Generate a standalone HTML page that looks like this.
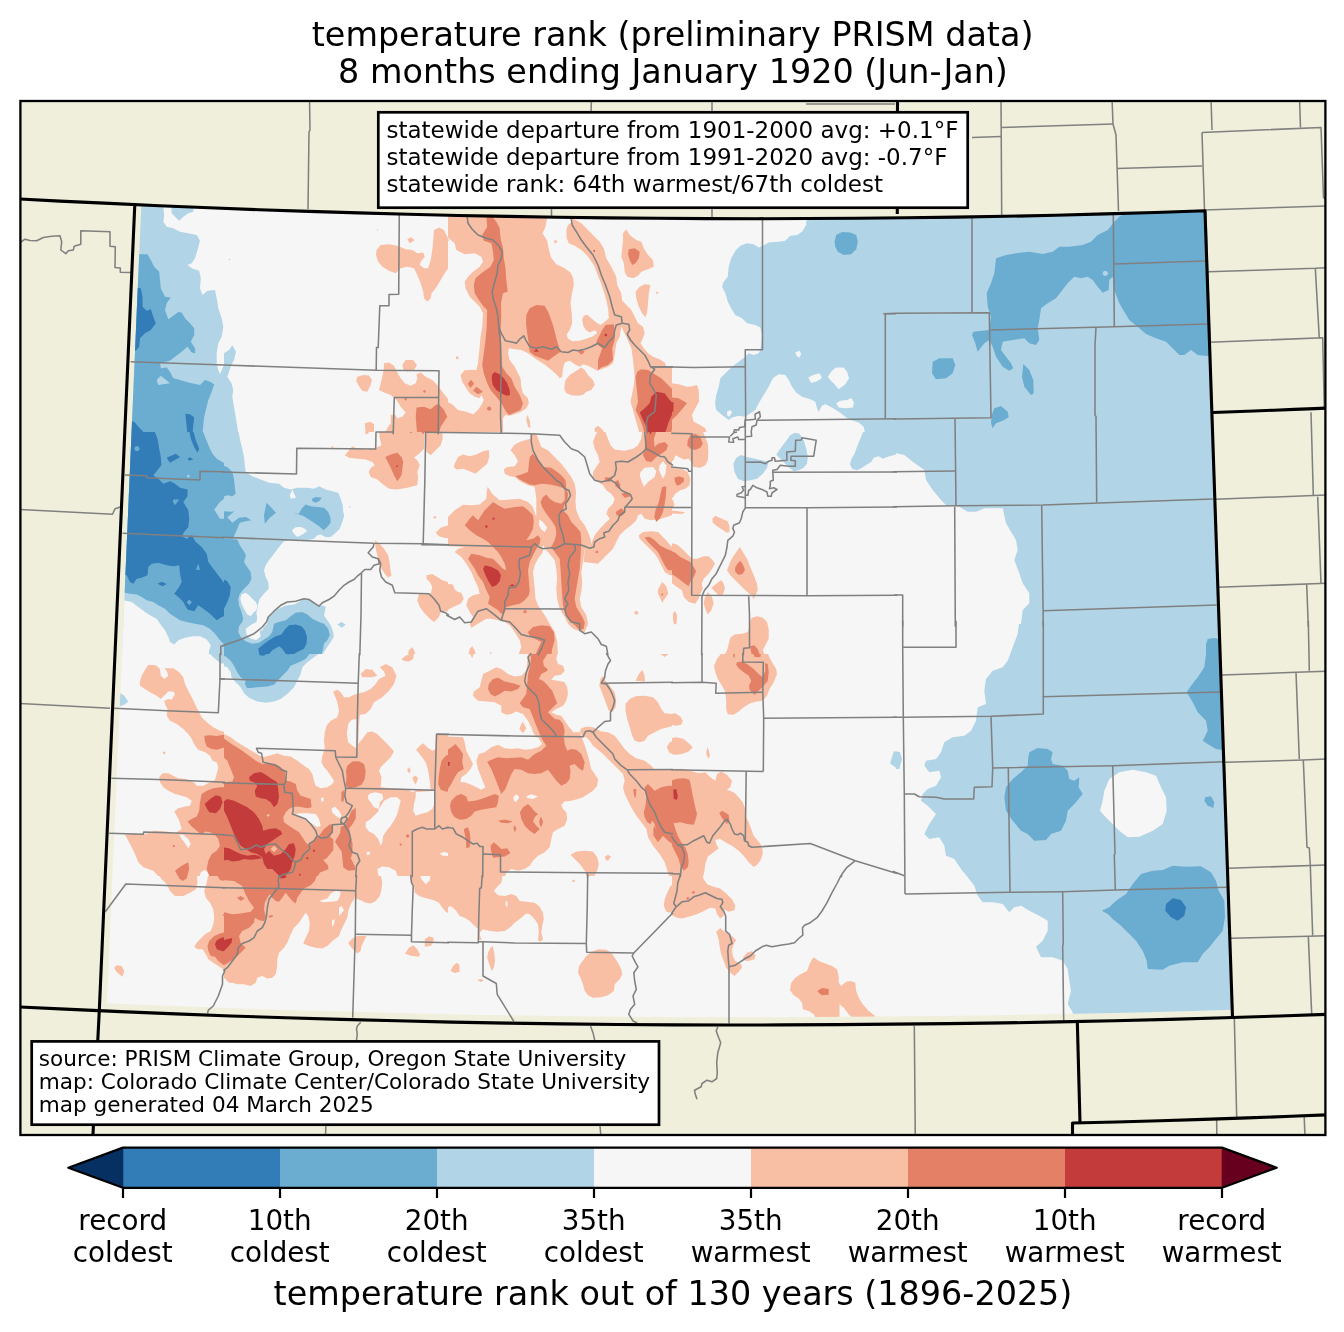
<!DOCTYPE html>
<html lang="en"><head><meta charset="utf-8"><title>temperature rank (preliminary PRISM data)</title>
<style>
html,body{margin:0;padding:0;background:#fff}
svg{display:block}
text{font-family:"DejaVu Sans","Liberation Sans",sans-serif;fill:#000}
.t{font-size:33.4px;text-anchor:middle}
.k{font-size:27.78px;text-anchor:middle}
.a{font-size:23px}
.s{font-size:21.59px}
.c{fill:none;stroke:#808080;stroke-width:1.55;stroke-linejoin:round}
.st{fill:none;stroke:#000;stroke-width:3.1;stroke-linejoin:round}
</style></head>
<body>
<svg width="1344" height="1332" viewBox="0 0 1344 1332">
<rect width="1344" height="1332" fill="#fff"/>
<defs><clipPath id="ax"><rect x="20.5" y="101" width="1305" height="1034"/></clipPath>
<clipPath id="co"><path d="M141.3,205.5L185.7,207.3L230.1,209.1L274.5,210.7L318.8,212.3L363.2,213.6L407.6,214.8L452,215.9L496.4,216.7L540.8,217.5L585.1,218.1L629.5,218.6L673.9,219L718.3,219.1L762.7,219.2L807,219L851.4,218.8L895.8,218.4L940.2,217.8L984.6,217.2L1029,216.3L1073.4,215.3L1117.7,214.1L1162.1,212.8L1206.5,211.3L1232.5,1009.8L1185.6,1011.2L1138.7,1012.4L1091.8,1013.4L1044.9,1014.3L998,1015.2L951.1,1015.8L904.2,1016.2L857.3,1016.7L810.4,1017L763.5,1017.2L716.6,1017.2L669.8,1017.1L622.9,1016.8L576,1016.2L529.1,1015.6L482.2,1014.9L435.3,1014L388.4,1012.8L341.5,1011.6L294.6,1010.3L247.7,1008.8L200.8,1007.1L153.9,1005.2L107,1003.2Z"/></clipPath>
<clipPath id="t0"><rect x="0" y="200" width="224" height="232"/></clipPath>
<clipPath id="t1"><rect x="0" y="432" width="224" height="222"/></clipPath>
<clipPath id="t2"><rect x="0" y="654" width="224" height="222"/></clipPath>
<clipPath id="t3"><rect x="0" y="876" width="224" height="222"/></clipPath>
<clipPath id="t4"><rect x="224" y="200" width="224" height="232"/></clipPath>
<clipPath id="t5"><rect x="224" y="432" width="224" height="222"/></clipPath>
<clipPath id="t6"><rect x="224" y="654" width="224" height="222"/></clipPath>
<clipPath id="t7"><rect x="224" y="876" width="224" height="222"/></clipPath>
<clipPath id="t8"><rect x="448" y="200" width="224" height="232"/></clipPath>
<clipPath id="t9"><rect x="448" y="432" width="224" height="222"/></clipPath>
<clipPath id="t10"><rect x="448" y="654" width="224" height="222"/></clipPath>
<clipPath id="t11"><rect x="448" y="876" width="224" height="222"/></clipPath>
<clipPath id="t12"><rect x="672" y="200" width="224" height="232"/></clipPath>
<clipPath id="t13"><rect x="672" y="432" width="224" height="222"/></clipPath>
<clipPath id="t14"><rect x="672" y="654" width="224" height="222"/></clipPath>
<clipPath id="t15"><rect x="672" y="876" width="224" height="222"/></clipPath>
<clipPath id="t16"><rect x="896" y="200" width="448" height="424"/></clipPath>
<clipPath id="t17"><rect x="896" y="624" width="448" height="444"/></clipPath>
</defs>
<rect x="20.5" y="101" width="1305" height="1034" fill="#efefdb"/>
<g clip-path="url(#ax)">
<path d="M141.3,205.5L185.7,207.3L230.1,209.1L274.5,210.7L318.8,212.3L363.2,213.6L407.6,214.8L452,215.9L496.4,216.7L540.8,217.5L585.1,218.1L629.5,218.6L673.9,219L718.3,219.1L762.7,219.2L807,219L851.4,218.8L895.8,218.4L940.2,217.8L984.6,217.2L1029,216.3L1073.4,215.3L1117.7,214.1L1162.1,212.8L1206.5,211.3L1232.5,1009.8L1185.6,1011.2L1138.7,1012.4L1091.8,1013.4L1044.9,1014.3L998,1015.2L951.1,1015.8L904.2,1016.2L857.3,1016.7L810.4,1017L763.5,1017.2L716.6,1017.2L669.8,1017.1L622.9,1016.8L576,1016.2L529.1,1015.6L482.2,1014.9L435.3,1014L388.4,1012.8L341.5,1011.6L294.6,1010.3L247.7,1008.8L200.8,1007.1L153.9,1005.2L107,1003.2Z" fill="#f7f6f6"/>
<g clip-path="url(#co)">
<g clip-path="url(#t0)">
<path d="M130,200L162.5,200L164.2,215L163.3,221.7L166.7,226.7L173.3,228.3L180,231.7L188.3,233.3L196.7,235L200,240.8L197.5,250L195,258.3L191.7,263.3L187.5,265L191.7,268.3L199.2,270.8L200.8,278.3L200,288.3L202.5,295L207.5,290.8L215,290L216.7,298.3L218.3,308.3L221.7,318.3L223.3,326.7L221.7,336.7L218.3,343.3L216.7,353.3L216.7,363.3L218.3,370L220,374.2L222.5,368.3L226.7,360L226.7,434.2L130,434.2Z" fill="#b1d5e7"/>
<path d="M170.8,200L171.7,213.3L175,216.7L179.2,220.8L183.3,216.7L188.3,213.3L193.3,211.7L194.2,200Z" fill="#b1d5e7"/>
<path d="M130,255L140,254.2L147.5,254.2L150.8,260L154.2,266.7L159.2,271.7L160,280L160.8,288.3L165,296.7L170.8,297.5L166.7,303.3L165,310L168.3,319.2L173.3,315.8L178.3,312L181.7,312.5L185,318.3L190,323.3L194.2,328.3L194.2,335L190.8,341.7L195,348.3L195.3,353.3L191.7,352.5L187.5,346.7L181.7,351.7L175,356.7L170,360.8L160,363.3L160.8,368.3L166.7,367.5L170,371.7L173.3,378.3L180,380L188.3,382.5L200,385L205,380L210,381.7L214.2,384.2L211.7,391.7L208.3,400L206.7,406.7L204.2,416.7L203.3,425L202.5,434.2L130,434.2Z" fill="#6bacd1"/>
<path d="M160.8,375.8L170,383.3L158.3,385L156.7,380Z" fill="#b1d5e7"/>
<path d="M130,287.5L140.8,288.3L142.5,296.7L142.5,306.7L146.7,310.8L150.8,309.2L153.3,316.7L155.8,323.3L150.8,330L145,333.3L140,338.3L139.2,346.7L135.8,350.8L130,350.8Z" fill="#327cb7"/>
<path d="M185.3,413.7L190,414.2L194.2,417.5L193.3,425L192.5,434.2L187.5,434.2L186.3,423.3Z" fill="#327cb7"/>
<path d="M130,420L135,422.5L138.3,426.7L141.7,430L145,434.2L130,434.2Z" fill="#327cb7"/>
</g>
<g clip-path="url(#t1)">
<path d="M116.7,430.3L226.7,430.3L226.7,656.2L116.7,656.2Z" fill="#b1d5e7"/>
<path d="M116.7,599.5L123.3,600.3L131.7,602L138.3,607L145,612L150,615.3L156.7,618.7L160,623.7L165,630.3L168.3,637L170,642L174.2,644.5L178.3,640.3L185,637.8L193.3,636.2L200,636.2L206.7,639.5L210.8,645.3L209.2,650.3L208.3,656.2L116.7,656.2Z" fill="#f7f6f6"/>
<path d="M116.7,430.3L202.5,430.3L205.8,438.7L209.2,447L212.5,453.7L216.7,458.7L226.7,464.5L226.7,647L220,640.3L215,633.7L210,628.7L203.3,625.3L195,623.7L186.7,622L180,620.3L175,617L170,613.7L165,608.7L158.3,605.3L153.3,602L146.7,600.3L141.7,597L136.7,594.5L130,593.7L116.7,591.2Z" fill="#6bacd1"/>
<path d="M214.2,509.5L220,502L225,497.8L225,518.7L220,518.7Z" fill="#b1d5e7"/>
<path d="M189.7,476.2L189.3,477.1L188.3,477.5L187.4,477.1L187,476.2L187.4,475.2L188.3,474.8L189.3,475.2Z" fill="#b1d5e7"/>
<path d="M154.2,430.3L157.5,438.7L159.2,448.7L160.8,457L161.3,465.3L156.7,471.2L153.3,475.3L158.3,478.7L163.3,483.7L170,481.2L175,483.7L180,487.8L187.5,489.5L187.5,496.2L183.3,502L188.3,510.3L189.2,518.7L188.3,527L184.2,532L181.7,536.2L186.7,538.7L191.7,535.3L195.8,542L201.7,547L206.7,553.7L208.3,562L213.3,568.7L218.3,575.3L223.3,582L226.7,585.3L226.7,615.3L221.7,617L216.7,620.3L210,613.7L203.3,608.7L198.3,605.3L194.2,611.2L187.5,609.5L183.3,602L178.3,597L174.2,593.7L179.2,587L181.7,582L180,573.7L179.2,565.3L173.3,566.2L166.7,565.3L158.3,562.8L151.7,563.7L148.3,567L147.5,575.3L141.7,577.8L136.7,578.7L133.3,583.7L130,582L126.7,575.3L116.7,575.3L116.7,430.3Z" fill="#327cb7"/>
<path d="M139.7,448.7L138.9,450.6L137,451.3L135.1,450.6L134.3,448.7L135.1,446.8L137,446L138.9,446.8Z" fill="#6bacd1"/>
<path d="M173.3,499.5L179.2,499.5L175,505.3L173,502Z" fill="#6bacd1"/>
<path d="M198.3,563.7L200,570L195.8,569.5Z" fill="#6bacd1"/>
<path d="M189.2,599.5L192,602.3L189.2,605.3L186.7,602.3Z" fill="#6bacd1"/>
<path d="M166.7,457.8L175.8,453.7L180,457L170,462.8Z" fill="#327cb7"/>
<path d="M187.5,458.7L190,457.3L193.3,459.5L189.2,460.7Z" fill="#327cb7"/>
<path d="M189.2,430.3L193.3,430.3L195.8,440.3L199.2,448.7L197.5,452.8L194.2,447L190.8,438.7Z" fill="#327cb7"/>
<path d="M157.5,583.7L161.7,581.7L166.7,584L162.5,586.2Z" fill="#327cb7"/>
</g>
<g clip-path="url(#t2)">
<path d="M208.3,652.3L213.3,657.3L218.3,661.5L222.5,664L226.7,660.7L226.7,652.3Z" fill="#b1d5e7"/>
<path d="M116.7,690.7L124.2,695.7L128.3,701.5L124.2,704.8L116.7,707.3Z" fill="#b1d5e7"/>
<path d="M148.3,664.8L155.8,665.3L160,669L160.8,675.7L164.2,679L168.3,675.7L166.7,670.7L164.2,668.2L173.3,668.2L179.2,672.3L183.3,677.3L185,684L188.3,690.7L191.7,697.3L195,704L198.3,710.7L201.7,717.3L206.7,722.3L213.3,727.3L220,730.7L226.7,732.3L226.7,878.2L160,878.2L153.3,870.7L143.3,867.3L138.3,862.3L135,854L131.7,847.3L128.3,840.7L125,834.8L133.3,833.2L143.3,834.8L155,830.7L166.7,831.5L175,833.2L181.7,829L179.2,820.7L176.7,815.7L174.2,811.5L178.3,808.2L185,806.5L190,805.7L191.7,800.7L186.7,797.3L181.7,795.7L175,794L168.3,790.7L163.3,787.3L160,782.3L159.2,777.3L162.5,773.2L168.3,773.2L173.3,775.7L178.3,778.2L186.7,779L195,783.2L196.7,785.7L203.3,785.7L210,782.3L215,779.8L216.7,774L218.3,767.3L216.7,762.3L212.5,760.7L210,755.7L205,752.3L198.3,749.8L195,745.7L191.7,739L188.3,734L183.3,729L176.7,724L170,720.7L166.7,715.7L167.5,709L165,704L164.2,700.7L168.3,699L171.7,699.8L175,694L173.3,691.5L168.3,691.5L165,694.8L160.8,699L156.7,695.7L150,692.3L145,689L140,685.7L139.7,682.3L141.7,675.7L145,669.8Z" fill="#f8bfa4"/>
<path d="M179.2,834.8L183.3,834.8L188.3,839L190.8,844L188.3,848.2L185,843.2L181.7,839Z" fill="#f7f6f6"/>
<path d="M199.2,878.2L200.8,872.3L205,869.8L209.2,874L210,878.2Z" fill="#f7f6f6"/>
<path d="M165.5,752.8L165.1,753.8L164.2,754.2L163.2,753.8L162.8,752.8L163.2,751.9L164.2,751.5L165.1,751.9Z" fill="#f8bfa4"/>
<path d="M204.2,735.7L210,735.3L216.7,736L224,734.8L226.7,734.8L226.7,747.3L221.7,748.2L216.7,749.8L211.7,749L206.7,746.5L205,741.5Z" fill="#e48066"/>
<path d="M201.7,794L206.7,790.7L213.3,788.2L220,787.3L226.7,787.3L226.7,878.2L210,878.2L206.7,869L208.3,860.7L211.7,854L216.7,850.7L220,845.7L218.3,839L215,834.8L210,832.3L205,831.5L201.7,834.8L196.7,830.7L191.7,826.5L187.5,821.5L191.7,819L196.7,816.5L199.2,810.7L200,802.3Z" fill="#e48066"/>
<path d="M175,870.7L181.7,865.7L188.3,862.3L189.2,869L186.7,878.2L179.2,878.2Z" fill="#e48066"/>
<path d="M175,846L174.7,846.8L173.8,847.2L173,846.8L172.7,846L173,845.2L173.8,844.8L174.7,845.2Z" fill="#e48066"/>
<path d="M204.7,804L210,799L215.8,795.3L220.8,796.5L222.5,802.3L220,809L215.8,813.2L209.2,812.3L206.7,808.2Z" fill="#c43b3c"/>
</g>
<g clip-path="url(#t3)">
<path d="M158.3,874.3L161.7,879.3L166.7,884.3L170,891L175,896L183.3,896L190,892.7L195.8,889.3L197.5,882.7L196.7,874.3Z" fill="#f8bfa4"/>
<path d="M208.3,874.3L206.7,882.7L204.2,891L205.8,897.7L210,902.7L213.3,909.3L214.2,917.7L213.3,924.3L210.8,931L205,934.3L200,939.3L196.7,942.7L194.2,946.8L197.5,949.3L202.5,949.3L205.8,954.3L208.3,959.3L213.3,962.7L218.3,966L223.3,969.3L226.7,969.3L226.7,874.3Z" fill="#f8bfa4"/>
<path d="M114.2,967.7L116.7,965.2L121.7,966L124.2,971L122.5,976.8L119.2,974.3L115.8,971Z" fill="#f8bfa4"/>
<path d="M177.5,874.3L187.5,874.3L186.7,878.5L182.5,881L179.2,878.5Z" fill="#e48066"/>
<path d="M216.7,874.3L225,874.3L225,881L220,880.2Z" fill="#e48066"/>
<path d="M226.7,931.8L220,933.5L214.2,936L209.2,941L207.5,946L208.3,951L210.8,956L215,956.8L218.3,961L222.5,964.3L226.7,966.8Z" fill="#e48066"/>
<path d="M224.5,915.2L224.2,915.8L223.7,916L223.1,915.8L222.8,915.2L223.1,914.6L223.7,914.3L224.2,914.6Z" fill="#e48066"/>
<path d="M226.7,936.8L221.7,937.7L216.7,940.2L215,944.3L216.7,949.3L221.7,951L226.7,951.8Z" fill="#c43b3c"/>
</g>
<g clip-path="url(#t4)">
<path d="M219,356.7L229,350L232.3,345.3L236,351.7L234,360L230.7,366.7L227.3,376.7L231.5,383.3L233.2,390L232.3,396.7L234,406.7L235.7,416.7L237.3,426.7L238.2,434.2L219,434.2Z" fill="#b1d5e7"/>
<path d="M230.3,259.5L230.1,260.1L229.5,260.3L228.9,260.1L228.7,259.5L228.9,258.9L229.5,258.7L230.1,258.9Z" fill="#b1d5e7"/>
<path d="M376.5,250L380.7,245L389,244.2L397.3,245.8L405.7,249.2L412.3,250L417.3,253.3L423.2,252.5L424.8,256.7L420.7,261.7L419.8,265L424,268.3L428.2,268.3L430.7,260L432.3,250L433.2,240L434,230L439,227.5L444,230L447.3,236.7L450.7,243.3L450.7,265L445.7,271.7L440.7,280L435.7,288.3L431.5,293.3L430.7,298.3L427.3,301.7L424,298.3L423.2,291.7L420.7,283.3L417.3,275L414,268.3L407.3,266.7L400.7,268.3L395.7,273.3L389,270.8L382.3,266.7L378.2,261.7L376,255Z" fill="#f8bfa4"/>
<path d="M407.3,239.2L410.7,237.2L414.8,240L409.8,243.3Z" fill="#f8bfa4"/>
<path d="M378.2,230L378,230.5L377.5,230.7L377,230.5L376.8,230L377,229.5L377.5,229.3L378,229.5Z" fill="#f8bfa4"/>
<path d="M357.3,376.7L363.2,375L369,375.5L372,380L370.3,385.8L367.3,391.7L362.3,390.8L358.2,385L356.2,380.8Z" fill="#f8bfa4"/>
<path d="M402.3,365L405.7,360L413.2,360L417,365L414,370L407.3,371.3L403.2,369.2Z" fill="#f8bfa4"/>
<path d="M384,363.3L389,362.5L394,365.8L397.3,372.5L400.7,378.3L404.8,383.3L410.7,385.8L415.7,383.3L417.3,378.3L416.5,374.2L420.7,372.5L425.7,376.7L432.3,380L437.3,385L442.3,391.7L447.3,398.3L450.7,401.7L450.7,434.2L384,434.2L388.2,426.7L390.7,423.3L390.7,415L394.8,414.2L397.3,418.3L402.3,416.7L405.7,412.5L400.7,406.7L396.5,400L390.7,395L384,392.5L379,390L380.7,383.3L382.3,376.7L383.7,370Z" fill="#f8bfa4"/>
<path d="M364.8,423.3L370.7,421.7L374,424.2L374,434.2L365.7,434.2Z" fill="#f8bfa4"/>
<path d="M416.5,407.5L424,406.7L430.7,409.2L435.7,405L439,404.2L444,410L447.3,416.7L444,421.7L440.7,426.7L439,434.2L417.3,434.2L416.5,426.7L415.7,416.7Z" fill="#e48066"/>
<path d="M425.8,391.3L425.5,392.3L424.5,392.7L423.5,392.3L423.2,391.3L423.5,390.4L424.5,390L425.5,390.4Z" fill="#e48066"/>
<path d="M407,399.2L406.6,400.1L405.7,400.5L404.7,400.1L404.3,399.2L404.7,398.2L405.7,397.8L406.6,398.2Z" fill="#e48066"/>
</g>
<g clip-path="url(#t5)">
<path d="M222.3,430.3L238.2,430.3L239.8,438.7L242.3,448.7L244,457L244.8,465.3L245.7,472L252.3,476.2L260.7,479.5L269,482.8L279,483.7L284,487.8L290.7,489.5L297.3,487.8L307.3,487.8L314,488.7L319,486.2L325.7,489.5L332.3,491.2L338.2,492.8L340.7,498.7L342.7,505.3L343.2,512L344.3,515.3L342.3,522L339.8,528.7L335.7,532.8L330.7,537L325.7,537.3L320.7,534.5L317.3,535.3L314,538.7L307.3,540.3L297.3,540.3L290.7,540L284,541.2L279,547L274,553.7L269,560.3L265.7,565.3L264,570.3L265.7,577L268.2,582L268.7,588.7L264,593.7L259.8,598.7L258.2,603.7L257.3,608.7L256.5,612.8L257.3,618.7L259.8,623.7L261.5,631.2L264,627L267.3,623.7L268.2,617L272.3,613.7L277.3,609.5L282.3,607L287.3,605.3L294,604.5L299,602L304,598.7L309,599.5L314,602.8L318.2,606.2L322.3,605.3L325.7,607L324.8,612L324,615.3L327.3,620.3L330.7,625.3L333.2,632L333.7,637L330.7,642L327.3,647L324,652L322.3,656.2L222.3,656.2Z" fill="#b1d5e7"/>
<path d="M241.5,594.5L245.7,592.8L249,595.3L252.3,598.7L255.7,602L257.3,605.3L256.5,610.3L254,612L250.7,616.2L247.3,614.5L244,608.7L241.5,603.7L240.3,598.7Z" fill="#f7f6f6"/>
<path d="M245.7,628.7L251.5,624.5L256.5,622L257.3,617L256.5,612.8L259.8,615.3L264,620.3L263.2,625.3L259.8,632L260.7,636.2L256.5,640L250.7,638.7L246.5,634.5Z" fill="#f7f6f6"/>
<path d="M292.3,489.5L294,493.7L296,497.8L290.7,498.7L289.8,495.3Z" fill="#f7f6f6"/>
<path d="M292,530.3L295.7,527.3L300.7,527L304.8,528.7L307,531.2L302.3,534.5L297.3,537L294,533.7Z" fill="#f7f6f6"/>
<path d="M350.7,507L350.4,507.6L349.8,507.8L349.2,507.6L349,507L349.2,506.4L349.8,506.2L350.4,506.4Z" fill="#b1d5e7"/>
<path d="M337.3,624.5L341.5,622L345.7,624.5L342,627.8Z" fill="#b1d5e7"/>
<path d="M222.3,465.3L227.3,467L232.3,472L234,478.7L234.8,487L235.7,493.7L232.3,496.2L227.3,495.3L222.3,497Z" fill="#6bacd1"/>
<path d="M222.3,511.2L230.7,511.7L234.3,511.2L230.7,514.5L227.3,517.3L232.3,522.8L239,517.8L245.7,517L251.5,520.3L245.7,521.2L239.8,522.8L237.3,528.7L234.8,534.5L233.2,538.7L222.3,538.7Z" fill="#6bacd1"/>
<path d="M266.5,502.8L271.5,507.8L276,512.8L269.8,517.8L264.8,523.7L264,515.3Z" fill="#6bacd1"/>
<path d="M293.2,513.3L299,513.7L301.5,508.7L305.7,504.5L310.7,506.2L317.3,507L324,507.8L328.2,512L330.3,517L330.7,522.8L327.3,527L323.7,530.3L319,526.2L314,522.8L309,519.5L304,516.2L299,514.5Z" fill="#6bacd1"/>
<path d="M312,498.7L315.7,497L322,497.8L319,501.2L315.7,502.8L312.3,501.2Z" fill="#6bacd1"/>
<path d="M222.3,538.7L237.3,539.5L239.8,545.3L243.2,550.3L246,555.3L244,562L247.3,567L250.7,572L251.5,578.7L249,583.7L244,588.7L239.8,593.7L238.2,598.7L239,605.3L241.5,612L243.2,618.7L242.3,622L239,626.2L238.2,632L240.7,637L245.7,641.2L252.3,643.7L259,642.8L264,639.5L269,636.2L272.3,632L274,623.7L279,622L285.7,620.3L290.7,616.2L295.7,612.8L302.3,612L307.3,614.5L312.3,618.7L319,622L324,623.7L328.2,628.7L329.8,635.3L327.3,640.3L324,643.7L323.2,648.7L320.7,656.2L222.3,656.2Z" fill="#6bacd1"/>
<path d="M222.3,578.7L227.3,581.2L230.7,587L229.8,595.3L227.3,602L224.8,607L222.3,612Z" fill="#327cb7"/>
<path d="M258.2,648.7L262.3,645.3L269,640.3L275.7,636.2L281.5,634.5L284.8,629.5L289,625.3L295.7,624.5L301.5,626.2L304.8,630.3L307,637L306.5,643.7L304,648.7L297.3,652L290.7,656.2L287.3,656.2L282.3,648.7L279,646.2L272.3,650.3L267.3,656.2L259.8,656.2Z" fill="#327cb7"/>
<path d="M379,430.3L379.8,438.7L381.5,445.3L374,448.7L365.7,449.5L357.3,448.7L352.3,446.2L348.2,451.2L344.8,455.3L349,457.8L357.3,458.7L365.7,459.5L372.3,462L374.8,465.3L370.7,467.8L368.7,472L370.7,477L377.3,479.5L382.3,483.7L389,488.7L397.3,489.5L407.3,487.8L417.3,485.3L418.2,477L417.3,472L419.8,465.3L417.3,460.3L414,457.8L419,453.7L424,448.7L424.8,430.3Z" fill="#f8bfa4"/>
<path d="M424.8,430.3L442.3,430.3L442.7,438.7L440.7,445.3L435.7,450.3L430.7,455.3L426.5,452L425.7,442Z" fill="#f8bfa4"/>
<path d="M364.8,430.3L369,430.3L368.2,434L365.3,433.7Z" fill="#f8bfa4"/>
<path d="M333.3,447L333,447.7L332.3,448L331.6,447.7L331.3,447L331.6,446.3L332.3,446L333,446.3Z" fill="#f8bfa4"/>
<path d="M436.2,517.3L435.8,518.3L434.8,518.7L433.9,518.3L433.5,517.3L433.9,516.4L434.8,516L435.8,516.4Z" fill="#f8bfa4"/>
<path d="M435.7,532.8L440.7,527.8L448,525.3L450.7,525.3L450.7,538.7L444,537.8L439,536.2Z" fill="#f8bfa4"/>
<path d="M374.8,540.3L379.8,543.7L384,548.7L388.2,555.3L389.8,563.7L390.7,572L391.5,575.3L388.2,577.8L384.8,573.7L381.5,568.7L379,562L377.3,555.3L375.7,548.7Z" fill="#f8bfa4"/>
<path d="M426.5,575.3L432.3,574L437.3,577L442.3,580.3L448,582L450.7,582L450.7,612L445.7,611.2L440.7,612L439,617L434,622L429.8,618.7L424,612.8L419.8,607L417.3,600.3L419,593.7L424,594.5L430.7,593.7L432.3,587L429.8,582L426.5,578.7Z" fill="#f8bfa4"/>
<path d="M407.3,656.2L409,650.3L412.3,647L414.8,652L415.7,656.2Z" fill="#f8bfa4"/>
<path d="M385.3,457L390.7,454.5L397.3,452.8L401.5,457L403.2,462L402.3,468.7L401.5,475.3L397.3,481.2L394,475.3L390.7,467.8L388.2,462.8Z" fill="#e48066"/>
<path d="M397.8,466.2L397.6,466.8L397,467L396.4,466.8L396.2,466.2L396.4,465.6L397,465.3L397.6,465.6Z" fill="#c43b3c"/>
<path d="M412.2,432L411.8,432.8L411,433.2L410.2,432.8L409.8,432L410.2,431.2L411,430.8L411.8,431.2Z" fill="#e48066"/>
<path d="M424.5,432.5L424.1,433.4L423.2,433.8L422.2,433.4L421.8,432.5L422.2,431.6L423.2,431.2L424.1,431.6Z" fill="#e48066"/>
</g>
<g clip-path="url(#t6)">
<path d="M222.3,652.3L320.7,652.3L314,657.3L307.3,662.3L302.3,667.3L300.7,674L297.3,680.7L294,687.3L287.3,694L280.7,699L274,701.5L265.7,702.7L257.3,701.5L249,697.7L244,693.2L240.7,687.3L235.7,682.3L231.5,677.3L230.7,672.3L227.3,667.3L222.3,665.7Z" fill="#b1d5e7"/>
<path d="M222.3,652.3L310.7,652.3L305.7,659L299,662.3L290.7,665.7L287.3,670.7L282.3,675.7L277.3,680.7L274,684.8L267.3,686.5L257.3,687.3L247.3,688.2L244.8,684L245.7,680.7L240.7,677.3L237.3,672.3L234,665.7L230.7,660.7L225.7,656.5L222.3,655.7Z" fill="#6bacd1"/>
<path d="M258.2,652.3L268.2,652.3L264,655.7L259.8,655.3Z" fill="#327cb7"/>
<path d="M284.8,652.3L291.5,652.3L288.2,654.8Z" fill="#327cb7"/>
<path d="M222.3,733.2L230.7,737.3L237.3,742.3L245.7,747.3L254,752.3L262.3,757.3L269,755.7L277.3,753.2L284,755.7L290.7,756.5L297.3,760.7L304,765.7L309,769L312.3,774L314,780.7L315.7,785.7L320.7,788.2L327.3,787.3L332.3,784L334,780.7L330.7,775.7L327.3,770.7L324,767.3L321.5,762.3L322.3,755.7L324.8,749L324,740.7L324.8,732.3L326.5,725.7L330.7,720.7L337.3,717.3L339,710.7L337.3,702.3L334.8,695.7L333.2,691.5L337.3,689.8L340.7,692.3L344,697.3L349,697.3L354,694.8L358.7,693.2L364,692.3L370.7,689L375.7,684L379,679L385.7,675.7L384,671.5L379.8,667.3L385.7,664L392.3,667.3L396.5,675.7L394,684L389,690.7L382.3,697.3L374,702.3L370.7,709L365.7,714L359.8,714.8L359,724L358.2,744L362.3,739L367.3,732.3L372.3,731.5L377.3,734L382.3,739L389,745.7L394,751.5L390.7,757.3L385.7,762.3L380.7,767.3L379,770.7L381.5,777.3L380.7,787.3L390.7,788.2L407.3,789L412.3,792.3L417.3,789.8L430.7,789.8L429.8,780.7L428.2,770.7L425.7,762.3L421.5,756.5L418.2,752.3L416,749.8L419.8,745.7L423.2,743.2L427.3,747.3L432.3,750.7L435.7,749L436,734L450.7,734L450.7,878.2L222.3,878.2Z" fill="#f8bfa4"/>
<path d="M348.2,724L351.5,719.8L357.3,719L357.3,749L352.3,745.7L348.2,742.3L346.8,734Z" fill="#f7f6f6"/>
<path d="M367.7,795.7L370.7,793.2L375.7,792.3L382.3,794L383.2,799L379.8,802.3L379,809L374,807.3L370.7,802.3L368.2,799Z" fill="#f7f6f6"/>
<path d="M415.7,792.3L434,790.7L434.3,804L432.3,809L427.3,812.3L420.7,814L415.7,815.7L413.2,810.7L414,804L415.7,797.3Z" fill="#f7f6f6"/>
<path d="M379,809L384,800.7L390.7,797.3L397.3,797.3L400.7,800.7L399,807.3L397.3,814L394,820.7L390.7,825.7L386.5,830.7L383.2,835.7L382.3,842.3L380.7,845.7L378.2,839L374,834L369,831.5L365.7,827.3L365.7,822.3L370.7,819L375.7,814L378.2,811.5Z" fill="#f7f6f6"/>
<path d="M294,814.8L299,813.2L307.3,813.2L315.7,814L319,819L320.7,825.7L317.3,827.3L312.3,824L307.3,820.7L302.3,818.2L297.3,816.5Z" fill="#f7f6f6"/>
<path d="M331.5,809L334.8,806.5L339,810.7L341.5,815.7L339.8,818.2L335.7,815.7L332.3,812.3Z" fill="#f7f6f6"/>
<path d="M321,798.2L323.2,797L324,800.7L321.5,802Z" fill="#f7f6f6"/>
<path d="M366.5,852.3L369.8,851.5L370.3,854L367.3,855.2Z" fill="#f7f6f6"/>
<path d="M377.3,869L382.3,866.5L389,867.3L395.7,870.7L398.2,878.2L379,878.2Z" fill="#f7f6f6"/>
<path d="M439.8,853.2L444,852L449,853.2L449,856L442.3,855.7Z" fill="#f7f6f6"/>
<path d="M360.7,674L365.7,669L372.3,669.8L377.3,675.7L372.3,677.3L367.3,677.3L362.3,677.3Z" fill="#f8bfa4"/>
<path d="M401.5,659L405.7,655.7L414,652.3L413.2,659L409,661.5L404,661Z" fill="#f8bfa4"/>
<path d="M407.3,769L409.3,767.3L410.7,770.7L409.3,773.2L407.7,771.5Z" fill="#f8bfa4"/>
<path d="M412.3,777.3L415.7,775.7L418.2,778.2L415.7,784.8L413.7,781.5Z" fill="#f8bfa4"/>
<path d="M222.3,737.3L229,742.3L235.7,746.5L242.3,750.7L249,755.7L255.7,760.7L262.3,764L269,763.2L275.7,764L280.7,767.3L284.8,770.7L285.7,780.7L290.7,781.5L295.7,784L297.3,790.7L300.7,795.7L305.7,797.3L310.7,799L311.5,807.3L307.3,808.2L302.3,807.3L297.3,806.5L292.3,807.3L289,809L285.7,812.3L283.2,817.3L284,822.3L289,825.7L294,829L299,832.3L302.3,837.3L305.7,842.3L309,845.7L314,840.7L319,835.7L324,829L330,824.2L332.5,825L332,832.5L330,836.7L333.3,839.2L333.3,850L326.7,858.3L323.3,860L328.3,865.8L328.3,869.2L320,872.5L316.5,878.2L222.3,878.2Z" fill="#e48066"/>
<path d="M335,841.7L340,833.3L340.8,826.7L345,825L351.7,810.8L355.8,807.8L355.8,818.3L352.5,824.2L349.2,828.3L350.8,837.5L352.5,843.3L352.5,853.3L350.8,858.3L355,866.7L355,870L348.3,870.8L343.3,867.5L341.7,851.7L338.3,846.7Z" fill="#e48066"/>
<path d="M222.3,755.7L227.3,760.7L230.7,769L234,777.3L232.3,781.5L222.3,782.3Z" fill="#f8bfa4"/>
<path d="M347.3,765.7L352.3,761.5L359,761.2L364,764L365.7,770.7L364.8,779L361.5,784.8L355.7,787.3L349,788.2L345.7,785.7L346.5,777.3L346,770.7Z" fill="#e48066"/>
<path d="M450.7,754L445.7,755.7L441.5,760.7L439.8,769L438.7,777.3L438.2,784L440.7,789.8L445.7,791.5L450.7,791.5Z" fill="#e48066"/>
<path d="M341.5,792.3L343.7,789.8L344.3,797.3L343.2,802.3L341.2,800.7Z" fill="#e48066"/>
<path d="M409.3,836L408.9,837.2L407.7,837.7L406.5,837.2L406,836L406.5,834.8L407.7,834.3L408.9,834.8Z" fill="#e48066"/>
<path d="M401.8,844.5L401.5,845.3L400.7,845.7L399.9,845.3L399.5,844.5L399.9,843.7L400.7,843.3L401.5,843.7Z" fill="#e48066"/>
<path d="M249,777.3L254,773.2L260.7,772L265.7,774.8L270.7,778.2L277.3,782.3L278.2,789L279,797.3L277.3,804L274,807.3L270.7,802.3L265.7,799L260.7,798.2L255.7,796.5L254.8,790.7L257.3,785.7L254,782.3L249.8,780.7Z" fill="#c43b3c"/>
<path d="M222.3,802.3L227.3,799L234,800.7L240.7,804L247.3,807.3L254,812.3L259,819L262.3,825.7L263.2,830.7L269,829L275.7,828.2L280.7,830.7L282.3,834L277.3,837.3L272.3,840.7L267.3,844L264,849L265.7,854L269,850.7L274,855.7L280.7,854L285.7,849L289,844L294,843.2L295.7,849L294.8,855.7L292.3,862.3L290.7,869L287.3,874L282.3,878.2L277.3,874L272.3,869L267.3,869L264,864L262.3,857.3L257.3,854L250.7,852.3L245.7,849L240.7,845.7L237.3,840.7L234,834L230.7,825.7L227.3,817.3L224,810.7L222.3,809Z" fill="#c43b3c"/>
<path d="M222.3,847.3L229,848.2L234,850.7L240.7,854L247.3,855.7L254,854.8L259,855.7L262.3,858.2L257.3,859L250.7,859.8L244,859L239,860.7L232.3,861.5L227.3,859.8L222.3,860.7Z" fill="#c43b3c"/>
<path d="M269.5,815.3L269.1,816.3L268.2,816.7L267.2,816.3L266.8,815.3L267.2,814.4L268.2,814L269.1,814.4Z" fill="#f8bfa4"/>
<path d="M277.3,849L274,852.3L270.7,849L274,845.7Z" fill="#f8bfa4"/>
<path d="M315.2,850.7L314.8,851.5L314,851.8L313.2,851.5L312.8,850.7L313.2,849.9L314,849.5L314.8,849.9Z" fill="#c43b3c"/>
<path d="M308.5,858.2L308.1,859L307.3,859.3L306.5,859L306.2,858.2L306.5,857.4L307.3,857L308.1,857.4Z" fill="#c43b3c"/>
<path d="M300.8,874.8L300.5,875.5L299.8,875.8L299.1,875.5L298.8,874.8L299.1,874.1L299.8,873.8L300.5,874.1Z" fill="#c43b3c"/>
</g>
<g clip-path="url(#t7)">
<path d="M222.3,874.3L355.7,874.3L355.7,892.7L354,899.3L350.7,904.3L348.2,911L347.3,917.7L344,924.3L340.7,931L339,936L332.3,941L327.3,946L322.3,948.5L315.7,947.7L309,946L303.2,943.5L305.7,937.7L309,931L309.8,922.7L308.2,916L305.7,912.7L302.3,917.7L299,922.7L294,927.7L290.7,934.3L287.3,942.7L284,947.7L279,952.7L277.3,959.3L277,967.7L275.7,974.3L272.3,977.7L267.3,978.5L262.3,976L257.3,977.7L255.7,982.7L250.7,986L244,984.3L237.3,984.3L232.3,982.7L229,982.7L222.3,976Z" fill="#f8bfa4"/>
<path d="M319,901L327.3,898.5L330.7,893.5L335.7,890.7L340.7,891.8L339.8,896.8L337.3,901L330.7,901.8L324,902.3Z" fill="#f7f6f6"/>
<path d="M339,907.7L341.5,906L344,910.2L340.7,914.3L339,916Z" fill="#f7f6f6"/>
<path d="M332,920.2L334.8,919.3L334,924.3L332,926.8Z" fill="#f7f6f6"/>
<path d="M355.7,874.3L380.7,874.3L382.3,882.7L381.5,889.3L379.8,896L375.7,901L370.7,903.5L365.7,902.7L360.7,900.2L355.7,898.5Z" fill="#f8bfa4"/>
<path d="M348.2,942.7L352.3,938.5L357.3,936L366.5,936L364,941L361.5,946L360.7,951L357.3,953.5L354,950.2L350.7,946.8Z" fill="#f8bfa4"/>
<path d="M409.8,874.3L410.7,881L414,886L414.8,892.7L420.7,896.8L427.3,898.5L434,900.2L439,902.7L442.3,907.7L445.7,911.8L450.7,914.3L450.7,874.3Z" fill="#f8bfa4"/>
<path d="M419.8,874.3L421.5,879.3L425.7,884.3L429.8,880.2L430.7,874.3Z" fill="#f7f6f6"/>
<path d="M424.8,939.3L429,936.3L433.7,937.7L433.2,942.7L430.7,946L424.8,946.8Z" fill="#f8bfa4"/>
<path d="M404.8,953.5L409,947.7L413.2,945.2L417.3,949.3L419.8,954.3L419,956.8L410.7,955.7Z" fill="#f8bfa4"/>
<path d="M222.3,874.3L317.3,874.3L314.8,881L310.7,885.2L304,888.5L300.7,892.7L297.3,897.7L295.7,903.5L292.3,901L288.2,896L285.7,892.7L282.3,897.7L279,901.8L275.7,901L272.3,897.7L269.8,894.3L267.3,897.7L264.8,902.7L264,909.3L265.7,916L264,921L259,920.2L254.8,917.7L254,922.7L249,927.7L242.3,931L239,936L240.7,942.7L245.7,947.7L240.7,952.7L235.7,957.7L230.7,961L225.7,964.3L222.3,966Z" fill="#e48066"/>
<path d="M222.3,880.2L234,881L242.3,886L244.8,892.7L249,901L254,907.7L250.7,911.8L240.7,913.5L232.3,914.3L222.3,911.8Z" fill="#f8bfa4"/>
<path d="M237,897.7L240.7,896L244.8,898.5L240.7,901Z" fill="#e48066"/>
<path d="M268.2,916.3L272.3,914.7L273.2,916.3L269.8,917.7Z" fill="#e48066"/>
<path d="M222.3,941L227.3,939L232.3,938L231.5,942.7L227.3,947.7L224,951L222.3,951Z" fill="#c43b3c"/>
<path d="M279,874.3L287.3,874.3L285.7,878L280.7,878.5Z" fill="#c43b3c"/>
</g>
<g clip-path="url(#t8)">
<path d="M444.7,215L546.7,215L546.7,220L545.5,226.7L542.5,233.3L547.2,240.8L548.8,249.2L551,257.5L556.3,264.2L564.7,268.3L570.5,272.5L573.3,278.3L573.8,285L571.7,295L570.5,303.3L571.7,313.3L572.2,323.3L569.7,330L566.7,334.2L567.7,338.3L572.2,341.3L579.7,340.8L586.3,338.7L593,336.2L597.2,332.8L598.8,326.7L608,323.3L614.7,323.3L621.3,326.7L619.7,336.7L616.3,343.3L614.7,355L613,363.3L608,366.7L601.3,369.2L597.2,370.8L593,368.3L588,365.8L583,364.2L579.7,366.7L574.7,364.2L569.7,360.8L564.7,362.5L563,368.3L562.2,376.7L559.7,378.3L556.3,374.2L551.3,370L546.3,365.8L541.3,362.5L534.7,358.3L528,353.3L521.3,350L514.7,349.2L508.8,348.3L508,353.3L509.7,360L514.7,366.7L518,373.3L520.5,378.3L521.3,386.7L523,393.3L528,398.3L528.8,403.3L526.3,408.3L521.3,411.7L514.7,414.2L509.7,415.8L505.5,415L503,418.3L503,434.2L444.7,434.2L444.7,400L453,405L458,410L466.3,411.7L473,414.2L478,410L481.3,405L483.8,400L481.3,395L479.7,398.3L474.7,396.7L469.7,393.3L466.3,388.3L462.2,381.7L460.5,375L464.7,370.3L471.3,369.7L476.3,370L478,363.3L478.8,355L479.7,346.7L480.5,336.7L482.2,326.7L483,313.3L479.7,306.7L474.7,301.7L469.7,296.7L465.5,288.3L464.7,281.7L468,276.7L473,271.7L479.7,266.7L483,261.7L481.3,256.7L474.7,253.3L464.7,254.2L456.3,250L454.7,243.3L444.7,235Z" fill="#f8bfa4"/>
<path d="M571.3,215L571.3,222.5L568,225L566.3,230L566.7,238.3L568.8,243.3L574.7,245.8L581.3,250L586.3,254.7L590.5,260L594.7,266.7L597.7,275L601,283.3L604.3,293.3L606.7,301.7L608.3,310L608.8,318.3L605.5,321.3L600.5,325L596.3,322.5L591.3,318.3L587.2,314.7L583.8,315.8L582.2,319.2L583,325L585.5,329.7L589.7,332.5L594.7,330.3L598,333.3L608,326.7L621.3,326.7L626.3,336.7L631.3,348.3L633,360L634.7,376.7L633.8,385L632.2,393.3L630.5,401.7L633,410L634.7,416.7L637.2,425L639.7,434.2L674.7,434.2L674.7,368.3L666.3,366.7L664.7,362.5L659.7,359.2L653,356.7L648,353.3L643.8,348.3L640.5,343.3L642.2,340L644.7,333.3L643,326.7L638,323.3L634.7,316.7L631.3,310L627.2,305.8L622.2,300.8L621.3,293.3L617.2,285L616.3,276.7L611.3,266.7L606.3,258.3L603.8,248.3L599.7,241.7L593,235L586.3,228.3L581.3,223.3L574.7,219.2L574.7,215Z" fill="#f8bfa4"/>
<path d="M564.7,385L565.5,380L569.7,375L576.3,370.8L581.3,367.5L584.7,370L588,375L593,380L594.7,385L591.3,390L586.3,391.7L583,395L578,395.8L571.3,395.3L566.3,393.3L564.3,389.2Z" fill="#f8bfa4"/>
<path d="M626.3,229.2L629.7,235L636.3,240L641.3,241.7L643.8,248.3L648,255L653,260L653.8,266.7L648,269.2L641.3,271.7L638,275.8L633,278.3L627.2,276.7L624.7,271.7L623.8,263.3L621.3,256.7L622.2,248.3L623,240L623,233.3Z" fill="#f8bfa4"/>
<path d="M644.7,284.2L650.5,285L648.8,293.3L648,303.3L647.2,311.7L645.5,317.5L642.2,313.3L638.8,306.7L636.3,298.3L635.5,291.7L639.7,286.7Z" fill="#f8bfa4"/>
<path d="M557,241.7L556.6,242.7L555.5,243.2L554.4,242.7L554,241.7L554.4,240.6L555.5,240.2L556.6,240.6Z" fill="#f8bfa4"/>
<path d="M658.3,292.8L658,293.6L657.2,294L656.4,293.6L656,292.8L656.4,292L657.2,291.7L658,292Z" fill="#f8bfa4"/>
<path d="M458.7,357.8L458.2,358.9L457.2,359.3L456.1,358.9L455.7,357.8L456.1,356.8L457.2,356.3L458.2,356.8Z" fill="#f8bfa4"/>
<path d="M449,240L448.7,240.7L448,241L447.3,240.7L447,240L447.3,239.3L448,239L448.7,239.3Z" fill="#f8bfa4"/>
<path d="M527.2,415L529.7,420L530.5,428.3L528,426.7L526.3,420Z" fill="#f8bfa4"/>
<path d="M594.7,428.3L598,425.8L603,430L604.7,434.2L594.7,434.2Z" fill="#f8bfa4"/>
<path d="M486.3,215L487.2,226.7L482.2,235L483.8,240.8L491.3,243.3L493,251.7L493.8,260L490.5,266.7L481.3,273.3L475.5,278.3L473.8,285L474.7,293.3L478.8,300L483.8,306.7L487.2,310L486.7,326.7L485.5,340L483.8,353.3L482.2,365L483.8,373.3L487.2,383.3L490.5,390L496.3,396.7L501.3,403.3L505.5,410.8L508.8,415L514.7,412.5L520.5,410L523,403.3L519.7,395L514.7,386.7L511.3,378.3L506.3,373.3L502.2,366.7L501.3,353.3L501,343.3L500.5,330L501.3,316.7L501,303.3L503,293.3L507.7,291.7L506.3,280L505.5,268.3L503.8,258.3L503,248.3L500.5,238.3L499.7,228.3L496.3,221.7L493,217.5L493,215Z" fill="#e48066"/>
<path d="M529.7,308.3L536.3,305L544.7,305.8L548.8,313.3L553,325L556.3,338.3L558.8,346.7L560.5,351.7L554.7,355.8L548,360.8L541.3,358.3L534.7,355.8L529.7,351.7L528.8,343.3L527.2,333.3L526,323.3L526.3,315Z" fill="#e48066"/>
<path d="M605.5,325L613.8,324.2L614.7,331.7L614.7,340L612.2,348.3L613,360L608,365L601.3,367.5L598,370L598,360L600.5,353.3L602.2,348.3L598,345L596.3,341.7L599.7,335L602.2,330Z" fill="#e48066"/>
<path d="M628.8,249.2L634.7,248.3L639.7,251.7L638.8,258.3L635.5,263.3L632.2,265L629.7,260L628,254.2Z" fill="#e48066"/>
<path d="M641.3,369.2L648,370L654.7,374.2L661.3,378.3L666.3,383.3L671.3,388.3L674.7,390L674.7,421.7L670.5,434.2L644.7,434.2L642.2,425L638.8,416.7L635.5,410L638,401.7L637.2,393.3L636.3,385L635.5,376.7L637.2,371.7Z" fill="#e48066"/>
<path d="M471,379.7L474.2,383.7L470.5,387.7L467.7,383.7Z" fill="#e48066"/>
<path d="M476.3,386.7L483,391.7L478,394.2L473,390.8Z" fill="#e48066"/>
<path d="M491.3,408.7L490.7,410.2L489.2,410.8L487.6,410.2L487,408.7L487.6,407.1L489.2,406.5L490.7,407.1Z" fill="#e48066"/>
<path d="M578,351.7L581.3,349.7L585,351.7L581.3,354.7Z" fill="#e48066"/>
<path d="M494.7,372L499.7,374.2L503.8,378.3L507.2,383.3L509.7,390L510,395L506.3,395.8L501.3,393.3L496.3,390L492.7,385L491.7,378.3L492.2,374.2Z" fill="#c43b3c"/>
<path d="M656.3,391.7L664.7,393.3L669.7,400L673,403.3L673,412.5L668.8,421.7L664.7,434.2L648,434.2L646.3,426.7L642.2,418.3L639.7,412.5L644.7,408.3L649.7,403.3L651.3,396.7Z" fill="#c43b3c"/>
<path d="M533.8,351.7L536.3,348.8L538.8,351.7Z" fill="#c43b3c"/>
<path d="M607.2,335L606.8,335.9L605.8,336.3L604.9,335.9L604.5,335L604.9,334.1L605.8,333.7L606.8,334.1Z" fill="#c43b3c"/>
<path d="M595,250.8L594.8,251.4L594.2,251.7L593.6,251.4L593.3,250.8L593.6,250.2L594.2,250L594.8,250.2Z" fill="#c43b3c"/>
</g>
<g clip-path="url(#t9)">
<path d="M454.7,463.7L458,457L463,454.5L469.7,456.2L476.3,454.5L483,451.2L488.8,450L489.3,457L487.2,463.7L481.3,468.7L475.5,473.7L469.7,471.2L463,468.7L456.3,469.5L453.8,467Z" fill="#f8bfa4"/>
<path d="M446.3,518.7L454.7,510.3L463,504.8L471.3,505.3L479.7,504.5L486.3,498.7L486.7,492L487.7,486.7L492.2,493.7L499.7,500.3L509.7,499.5L519.7,498.7L528,502L533,507L535.5,515.3L548,518.7L551.3,532L546.3,540.3L542.2,547L543,552L538,558.7L534.7,565.3L533,572L533.8,580.3L534.7,588.7L535.5,598.7L538,605.3L544.7,615.3L549.7,623.7L554.7,632L557.2,642L558,656.2L518,656.2L521.3,647L519.7,640.3L514.7,632L509.7,625.3L504.7,622L498,620.3L491.3,618.7L486.3,618.7L478,623.7L471.3,627.8L469.7,623.7L473,617L469.7,612L466.3,605.3L468,598.7L473,595.3L479.7,593.7L478,587L474.7,580.3L471.3,572L466.3,563.7L461.3,557L454.7,552L458,548.7L464.7,547L446.3,546.2Z" fill="#f8bfa4"/>
<path d="M446.3,583.7L453,584.5L454.7,589.5L458,592L461.3,592.8L463.8,598.7L460.5,603.7L454.7,606.2L449.7,608.7L446.3,611.2Z" fill="#f8bfa4"/>
<path d="M503.8,469.5L507.2,467L514.7,466.2L518,461.2L514.7,455.3L510.5,450.3L514.7,444.5L521.3,441.2L530.5,438.7L530.8,433.7L536.3,433.7L541.3,447L548,450.3L554.7,457L561.3,463.7L566.3,470.3L571.3,477L574.7,483.7L576,492L575.5,502L576.3,510.3L579.7,518.7L584.7,525.3L588,532L590.5,538.7L591.3,543.7L584.7,548.7L583,562L581.3,572L582.2,582L581.3,592L579.7,598.7L581.3,607L586.3,615.3L588,623.7L584.7,632L579.7,631.2L573,628.7L568,623.7L564.7,617L559.7,608.7L557.2,598.7L556.3,588.7L557.2,578.7L556.3,568.7L554.7,560.3L548,552L544.7,548.7L541.3,540.3L538,532L536.3,515.3L536.3,498.7L534.7,487L528,485.3L521.3,482L514.7,477L509.7,476.2L504.7,473.7Z" fill="#f8bfa4"/>
<path d="M539.3,519.5L543,522L547.2,527.8L544.7,532L541.3,529.5L538.8,524.5Z" fill="#f7f6f6"/>
<path d="M598,430.3L595.5,435.3L593,442L594.7,448.7L598,455.3L599.7,462L596.3,467L593,472L593,477L598,482L603,485.3L606.3,490.3L611.3,493.7L614.7,498.7L613,503.7L608,508.7L606.3,513.7L609.7,518.7L604.7,523.7L599.7,528.7L594.7,535.3L591.3,543.7L584.7,548.7L583.8,562L589.7,562.8L598,563.7L603,558.7L608,553.7L613,548.7L616.3,542L619.7,535.3L624.7,530.3L631.3,525.3L636.3,520.3L638,515.3L641.3,513.7L644.7,518.7L651.3,520.3L661.3,518.7L672,515.3L674.7,515.3L674.7,430.3Z" fill="#f8bfa4"/>
<path d="M640.5,472L644.7,467.8L653,467L656.3,471.2L654.7,477L648,482L643.8,487L641.3,480.3L639.7,475.3Z" fill="#f7f6f6"/>
<path d="M659.7,465.3L663,461.2L666.3,465.3L665.5,473.7L663,478.7L660.5,473.7L658.8,469.5Z" fill="#f7f6f6"/>
<path d="M604.7,430.3L608,438.7L610.5,445.3L614.7,449.5L624.7,450.7L633,448.7L638,445.3L641.3,438.7L642.2,430.3Z" fill="#f7f6f6"/>
<path d="M638.8,535.3L643,532L651.3,531.2L658,532L664.7,538.7L672,547L674.7,548.7L674.7,575.3L669.7,575.3L664.7,572L661.3,565.3L658,558.7L654.7,553.7L648,547L643,542L639.7,538.7Z" fill="#f8bfa4"/>
<path d="M658.3,588.7L662.2,582L666.3,586.2L668.3,593.7L664.7,598.7L662.2,602.8L659.7,597L657.7,592.8Z" fill="#f8bfa4"/>
<path d="M638.3,612.8L637.8,614.2L636.3,614.8L634.9,614.2L634.3,612.8L634.9,611.4L636.3,610.8L637.8,611.4Z" fill="#f8bfa4"/>
<path d="M468,656.2L469.7,648.7L472.2,646.2L474.7,650.3L476.3,656.2Z" fill="#f8bfa4"/>
<path d="M489.7,656.2L490.5,651.2L492.7,656.2Z" fill="#f8bfa4"/>
<path d="M464.7,525.3L469.7,518.7L473,515.3L478,520.3L484.7,510.3L493,502L498,505.3L504.7,508.7L514.7,507L523,506.2L528,510.3L533,515.3L533.8,522L533,528.7L529.7,535.3L526.3,540.3L533,538.7L538,535.3L540.5,538.7L539.7,543.7L536.3,548.7L533,555.3L529.7,562L528,570.3L528.8,580.3L529.7,590.3L528.8,595.3L524.7,600.3L519.7,603.7L513,605.3L506.3,607L504.7,612.8L501.3,613.7L498,610.3L493,607L488,603.7L489.7,597L486.3,590.3L483,582L478,575.3L474.7,568.7L471.3,563.7L468,558.7L471.3,553.7L479.7,555.3L486.3,557.8L493,558.7L498,563.7L503,568.7L506.3,570.3L504.7,563.7L501.3,557L498,552L493,547L488,542L483,538.7L476.3,535.3L469.7,530.3Z" fill="#e48066"/>
<path d="M515.5,476.2L521.3,474.5L528,472L528.8,465.3L529.7,457L533,453.7L538,460.3L543,467L551.3,467.8L556.3,471.2L561.3,475.3L565.5,480.3L566.3,488.7L568,493.7L567.2,502L564.7,503.7L563,510.3L568,515.3L571.3,522L576.3,527L580.5,532L581.3,540.3L581,548.7L580.5,558.7L579.7,568.7L578,578.7L576.3,588.7L574.7,598.7L576.3,607L581.3,615.3L584.7,622L583.8,628.7L579.7,630.3L574.7,625.3L569.7,620.3L565.5,613.7L563,605.3L562.2,595.3L561.3,582L560.5,568.7L559.7,558.7L554.7,552L551.3,547L554.7,540.3L556.3,533.7L555.5,527L551.3,520.3L546.3,513.7L542.2,507L540.5,502L543,497L546.3,494.5L549.7,498.7L554.7,502L561.3,503.7L564.7,500.3L564.7,488.7L558,486.2L549.7,484.5L541.3,483.7L534.7,485.3L529.7,484.5L524.7,482L519.7,479.5Z" fill="#e48066"/>
<path d="M644.7,537.3L649.7,536.7L654.7,540.3L659.7,545.3L666.3,548.7L674.7,552L674.7,570.3L668,570.3L664.7,565.3L661.3,558.7L658,552L653,547L648,542Z" fill="#e48066"/>
<path d="M646.3,430.3L645.5,438.7L644.7,448.7L643,455.3L646.3,461.2L651.3,462L656.3,457L661.3,453.7L666.3,450.3L668,445.3L664.7,442L658,443.7L654.7,447L653.8,438.7L656.3,432L658,430.3Z" fill="#e48066"/>
<path d="M662.2,487L666.3,486.2L666,495.3L664.7,503.7L663,512L659.7,518.7L656.3,522L654.3,517L655.5,510.3L658.8,502L660.5,493.7Z" fill="#e48066"/>
<path d="M604.7,477.3L613,477.8L609.7,482L605.5,481.2Z" fill="#e48066"/>
<path d="M614.7,482L618,480L620.5,485.3L618.8,488.7L615.5,486.2Z" fill="#e48066"/>
<path d="M621.3,493.7L627.2,492.3L630.5,496.2L624.7,497.8Z" fill="#e48066"/>
<path d="M615.5,512L621.3,508.3L625.5,512L621.3,516.2L616.7,515.3Z" fill="#e48066"/>
<path d="M528,632L533,627L541.3,625.3L549.7,626.2L553.8,632L554.7,640.3L552.2,648.7L551.3,656.2L534.7,656.2L538,648.7L541.3,642L534.7,638.7L529.7,636.2Z" fill="#e48066"/>
<path d="M526.7,611.7L526.2,612.9L525,613.3L523.8,612.9L523.3,611.7L523.8,610.5L525,610L526.2,610.5Z" fill="#e48066"/>
<path d="M663.2,594.5L662.9,595.2L662.2,595.5L661.5,595.2L661.2,594.5L661.5,593.8L662.2,593.5L662.9,593.8Z" fill="#e48066"/>
<path d="M598.2,552L597.8,553L596.8,553.3L595.9,553L595.5,552L595.9,551L596.8,550.7L597.8,551Z" fill="#e48066"/>
<path d="M485,565.3L491.3,567L498,570.3L501,575.3L499.7,581.2L496.3,585.3L492.2,587L488.8,582L485.5,575.3L483,568.7Z" fill="#c43b3c"/>
<path d="M494.7,518.7L494.3,519.5L493.5,519.8L492.7,519.5L492.3,518.7L492.7,517.9L493.5,517.5L494.3,517.9Z" fill="#c43b3c"/>
<path d="M487.7,526.5L487.3,527.5L486.3,527.8L485.4,527.5L485,526.5L485.4,525.5L486.3,525.2L487.3,525.5Z" fill="#c43b3c"/>
<path d="M508.8,586.2L512.2,584L515.5,586.2Z" fill="#c43b3c"/>
<path d="M651.7,432.8L651.3,433.6L650.5,434L649.7,433.6L649.3,432.8L649.7,432L650.5,431.7L651.3,432Z" fill="#c43b3c"/>
</g>
<g clip-path="url(#t10)">
<path d="M528,652.3L527.2,662.3L526.3,670.7L521.3,675.7L514.7,676.5L508,674L501.3,669L496.3,667.3L489.7,670.7L483,674L481.3,680.7L479.7,687.3L473.8,691.5L473,695.7L478,700.7L486.3,701.5L494.7,702.3L501.3,705.7L501.3,712.3L506.3,714.8L511.3,714L516.3,711.5L523,714L528,720.7L531.3,727.3L533,732.3L536.3,737.3L581.3,737.3L579.7,732.3L573,732.3L572.2,730.7L568,725.7L564.7,720.7L561.3,715.7L556.3,714.8L551.3,712.3L556.3,709L563,705.7L566.3,700.7L568,694L567.2,687.3L564.7,682.3L558,680.7L551.3,679.8L554.7,675.7L561.3,674.8L564.7,670.7L563,665.7L558,664L556.3,659L558,652.3Z" fill="#f8bfa4"/>
<path d="M446.3,736.5L463,737.3L464.7,742.3L466.3,750.7L469.7,757.3L473,764L470.5,769L466.3,774L461.3,777.3L460.5,782.3L464.7,782.3L471.3,784.8L476.3,787.3L481.3,789.8L485.5,787.3L483.8,784L481.3,777.3L478,769L476.3,760.7L478.8,754L484.7,752.3L491.3,747.3L498,744.8L504.7,748.2L511.3,749L518,748.2L524.7,749.8L531.3,749L538,747.3L542.2,744L538,737.3L536.3,735.7L581.3,735.7L583,740.7L585.5,747.3L588,755.7L589.7,762.3L591.3,769L594.7,774L598,779L597.2,785.7L593,790.7L588,794L583,797.3L578,799L571.3,800.7L564.7,801.5L561.3,804.8L563,809L566.3,812.3L567.2,819L564.7,825.7L558,829L553,832.3L551.3,839L549.7,847.3L544.7,852.3L538,855.7L533,860.7L529.7,865.7L524.7,869L518,870.7L511.3,869L506.3,872.3L504.7,878.2L446.3,878.2Z" fill="#f8bfa4"/>
<path d="M513.3,797.3L516.3,794.3L519.3,797.3L516.3,802L513.8,800.7Z" fill="#f7f6f6"/>
<path d="M526,796.5L531.3,794.3L538,796.5L533,799L528,798.3Z" fill="#f7f6f6"/>
<path d="M579.7,732.3L581.3,728.2L586.3,726.5L593,727.3L596.3,729L601.3,731.5L608,732.3L614.7,735.7L619.7,742.3L624.7,749L629.7,754L636.3,758.2L644.7,760.7L651.3,765.7L654.7,769.8L674.7,769.8L674.7,878.2L669.7,878.2L664.7,862.3L659.7,854L653,845.7L648,837.3L646.3,829L641.3,822.3L636.3,815.7L631.3,807.3L628,800.7L624.7,794L623,787.3L624.7,780.7L623,774L618,769L613,764L608,759L603,754L598,749.8L593,745.7L589.7,740.7L586.3,737.3L583,737.3Z" fill="#f8bfa4"/>
<path d="M600.5,679L603,675.7L605.5,680.7L609.7,685.7L614.7,692.3L616.3,700.7L615.5,707.3L612.2,712.3L608.8,710.7L606.3,704L603.8,697.3L601.3,690.7L599.3,685.7Z" fill="#f8bfa4"/>
<path d="M625.5,704L629.7,699L636.3,696L644.7,695.7L653,697.3L658,702.3L661.3,709L664.7,713.2L672,714L674.7,714L674.7,725.7L668,727.3L661.3,729L654.7,732.3L648,735.7L644.7,740.7L639.7,742.3L634.7,740.7L632.2,735.7L629.7,727.3L627.2,719L625.5,710.7Z" fill="#f8bfa4"/>
<path d="M635.5,680.7L638.8,674L642.2,669.8L644.7,675.7L645,681.5Z" fill="#f8bfa4"/>
<path d="M469.7,653.2L473.8,653.2L472.2,658.2Z" fill="#f8bfa4"/>
<path d="M659.7,653.2L669.7,653.2L664.7,657Z" fill="#f8bfa4"/>
<path d="M522.7,721.5L526.3,728.2L523,733.2L519.2,728.7Z" fill="#f8bfa4"/>
<path d="M570.5,854.8L576.3,851.5L584.7,850.7L593,851.5L597.2,857.3L598.8,864L597.2,870.7L593,878.2L588,878.2L584.7,870.7L579.7,864L574.7,859Z" fill="#f8bfa4"/>
<path d="M605,856.5L608,854.8L611,856.5L608,860.7L605.5,859.8Z" fill="#f8bfa4"/>
<path d="M666.7,747.3L669.7,742.3L674.7,739.8L674.7,754L669.7,753.2Z" fill="#f8bfa4"/>
<path d="M531.3,652.3L530.5,664L528,674L527.2,684L526.3,694L519.7,703.2L523,707.3L529.7,709L533,717.3L536.3,725.7L539.7,734L543,740.7L546.3,745.7L541.3,750.7L534.7,754L528,759.8L521.3,757.3L514.7,757.7L506.3,758.2L498,757.3L491.3,759.8L487.2,762L491.3,769L494.7,777.3L498,785.7L501.3,794L505.5,789L508,782.3L511.3,774L514.7,769L521.3,769.8L528,773.2L534.7,774L541.3,773.2L548,769.8L551.3,774L556.3,780.7L561.3,785.7L566.3,783.2L569.7,779L570.5,770.7L569.7,765.7L574.7,764L579.7,769L583,770.7L584.7,762.3L581.3,754L576.3,749.8L571.3,749L567.2,750.7L564.7,744L563.8,737.3L564.7,730.7L563,724L559.7,719.8L554.7,719L549.7,714L548,712.3L553,707.3L557.2,703.2L554.7,697.3L552.2,690.7L548,685.7L543,680.7L538.8,679L541.3,674L546.3,671.5L548,669.8L543.8,665.7L543,660.7L546.3,655.7L548,652.3Z" fill="#e48066"/>
<path d="M488.8,684L493,679L498,677.8L504.7,681.5L513,683.2L520.5,685.7L518,689L511.3,691.5L504.7,690.7L499.7,694L494.7,696.5L490.5,694L488,689Z" fill="#e48066"/>
<path d="M446.3,750.7L451.3,747.3L455.5,744L459.7,749L463,754L462.2,762.3L463.8,769L458,772.3L454.7,777.3L451.3,784L448,789L446.3,789Z" fill="#e48066"/>
<path d="M451.3,800.7L456.3,795.7L461.3,794L466.3,796.5L468,801.5L474.7,800.7L481.3,799L488,796.5L494.7,794L498.8,795.7L498,802.3L496.3,807.3L489.7,808.2L481.3,809.8L474.7,811.5L471.3,815.7L466.3,819L459.7,819.8L454.7,817.3L451.3,812.3L450,805.7Z" fill="#e48066"/>
<path d="M520,812.3L523,807.3L528,804L531.3,807.3L534.7,811.5L538,814L534.7,817.3L533,821.5L536.3,825.7L539.7,829L534.7,834L529.7,830.7L524.7,825.7L521.3,819Z" fill="#e48066"/>
<path d="M539.3,820.7L541,816.5L543,821.5L541.3,827.3L539.7,824.8Z" fill="#e48066"/>
<path d="M498,820.7L504.7,819.5L513,821.5L508,823.2L501.3,822.7Z" fill="#e48066"/>
<path d="M513.3,827.3L515,825.3L516.3,829L514.7,832.3Z" fill="#e48066"/>
<path d="M463.8,829L468,827.3L469.7,832.3L470.5,839L469.7,847.3L466.3,848.2L466,840.7L464.7,834Z" fill="#e48066"/>
<path d="M490.5,845.7L493.8,842.3L498,845.7L501.3,849L507.2,848.2L510.5,853.2L504.7,856.5L498,857.3L493,857.7L491,850.7Z" fill="#e48066"/>
<path d="M644.7,787.3L648,784L654.7,790.7L661.3,787.3L668,785.7L674.7,785.7L674.7,845.7L668,840.7L663,835.7L658,842.3L654.7,837.3L656.3,830.7L654.7,824L652.2,820.7L650.5,824L647.2,822.3L644.7,817.3L643.8,812.3L645.5,805.7L646.3,797.3L645.5,790.7Z" fill="#e48066"/>
<path d="M633.3,789.3L636.3,789L636,795.7L635,798.2L633.8,794Z" fill="#e48066"/>
<path d="M653.3,829L654.7,825.7L657.2,832.3L655.5,838.2L653.5,835.7Z" fill="#e48066"/>
<path d="M446.3,762L449.7,762L449.7,765.7L446.3,765.7Z" fill="#c43b3c"/>
</g>
<g clip-path="url(#t11)">
<path d="M446.3,874.3L481.3,874.3L480.5,887.7L479.3,901L478.8,917.7L478.5,929.3L474.7,926L469.7,921L464.7,917.7L459.7,916L456.3,911L453,907.7L449.7,906L446.3,909.3Z" fill="#f8bfa4"/>
<path d="M481.3,874.3L503,874.3L501.3,882.7L496.3,887.7L493.8,891L498,895.2L504.7,896L511.3,894L516.3,896L519.7,901L526.3,901.8L534.7,902.7L539.7,906.8L543,912.7L543.8,919.3L542.2,926L541.3,932.7L543,939.3L540.5,941.8L538,940.2L538.8,932.7L538,924.3L534.7,919.3L529.7,914.3L526.3,913.5L521.3,917.7L514.7,922.7L509.7,927.7L504.7,931L498,931.8L489.7,931L483,929.3L479.7,932.7L480.5,937.7L482.2,940.2L478.8,939.3L478.8,917.7L479.7,892.7Z" fill="#f8bfa4"/>
<path d="M505.5,901.8L507.2,901L507.7,906L506,906.8Z" fill="#f7f6f6"/>
<path d="M488,952.7L490.5,947.7L492.7,946L494.3,952.7L495,961L493.8,967.7L491.7,971L489.3,964.3L487.2,957.7Z" fill="#f8bfa4"/>
<path d="M450.5,971L453,966L456.3,963L459.3,964.3L459.7,971.8L454.7,973Z" fill="#f8bfa4"/>
<path d="M477.2,979.7L481.3,979L483.8,980.7L480.5,982Z" fill="#f8bfa4"/>
<path d="M574.8,881L574.5,882L573.5,882.3L572.5,882L572.2,881L572.5,880L573.5,879.7L574.5,880Z" fill="#f8bfa4"/>
<path d="M581.3,962.7L586.3,956L591.3,951.8L598,949.3L606.3,949.7L611.3,952.7L614.7,957.7L618,962.7L621.3,969.3L622.2,974.3L619.7,979.3L614.7,984.3L613.8,991L608,995.2L601.3,997.3L593,997.7L588,995.2L584.7,991L583,984.3L580.5,977.7L578,972.7L578.8,966.8Z" fill="#f8bfa4"/>
<path d="M674.7,882.7L670.5,886L667.2,892.7L664.7,899.3L663.8,906L666.3,911.8L669.7,912.7L674.7,909.3Z" fill="#f8bfa4"/>
</g>
<g clip-path="url(#t12)">
<path d="M807,200L806.2,225L802,231.7L797,235L790.3,235.8L785.3,240.8L778.7,241.7L768.7,242.5L762.8,245.8L758.7,247.5L753.7,244.2L747,243.3L740.3,245.8L735.3,250.8L731.2,258.3L728.7,266.7L727.8,276.7L723.7,281.7L722,286.7L725.3,293.3L727.8,301.7L732,310L735.3,315L742,318.3L747,323.3L755.3,325L760.3,327.5L762,335L761.2,343.3L760.3,350L758.7,353.3L753.7,355L748.7,353.3L745.3,356.7L738.7,361.7L732,366.7L725.3,373.3L720.3,378.3L718.7,386.7L716.2,395L715,403.3L716.2,410L722,415L728.7,420L732,417.5L738.7,415.8L745.3,416.7L755.3,410L758.7,403.3L763.7,395L768.7,386.7L772.8,378.3L778.7,374.2L785.3,375L788.7,380L792,386.7L796.2,392.5L802,396.7L810.3,399.2L815.3,401.7L817,408.3L818.7,411.7L822,405.8L825.3,404.2L832,407.5L838.7,411.7L845.3,416.7L850.3,420L858.7,422.5L863.7,426.7L865.3,434.2L898.7,434.2L898.7,200Z" fill="#b1d5e7"/>
<path d="M795.3,352.5L799.5,350.8L801.2,353.7L799,358L796.2,355Z" fill="#f7f6f6"/>
<path d="M808.3,377.5L813.7,374.7L819.5,373.3L822,378L817,381.3L811.2,383Z" fill="#f7f6f6"/>
<path d="M827.8,376.7L832,370.8L836.2,367.5L843.7,367.5L847,371.7L849,378.3L845.3,384.2L838.7,389.2L834.5,384.2L830.3,380Z" fill="#f7f6f6"/>
<path d="M836.2,403.3L840.3,400.8L847,400L851.2,398L854,402.5L852.8,407.5L845.3,408.3L838.7,407.5Z" fill="#f7f6f6"/>
<path d="M727,411.7L730.3,410L732,412.5L729.5,416.7L727.3,415.8Z" fill="#f7f6f6"/>
<path d="M834.5,241.7L836.2,235L842,232L850.3,232.5L856.2,235L857.8,241.7L856.2,249.2L851.2,254.2L843.7,255L837.8,251.7L835.3,246.7Z" fill="#6bacd1"/>
<path d="M667,382.5L678.7,384.2L687,386.7L692,386.3L697,385L698.7,390L699,401.7L695.3,408.3L692,415L693.7,421.7L700.3,425L705.3,428.3L707,434.2L667,434.2Z" fill="#f8bfa4"/>
<path d="M667,396.7L678.7,398.3L687,403.3L682,409.2L677,415L672,420L667,420.8Z" fill="#e48066"/>
<path d="M667,401.7L673.7,402.5L673.3,411.7L667,412.5Z" fill="#c43b3c"/>
</g>
<g clip-path="url(#t13)">
<path d="M733.3,463.7L736.2,457.8L741.2,455L747,457L755.3,458.7L763.7,460.7L768.7,462L767,467.8L762.8,473.7L757,478.7L750.3,480.3L743.7,481.2L737.8,478.7L734.5,472Z" fill="#b1d5e7"/>
<path d="M776.2,454.5L780.3,448.7L785.3,442L790.3,435.3L794.5,432.8L799.5,433.7L803.7,440.3L806.2,448.7L807.8,457L807,463.7L803.7,467.8L798.7,470.3L793.7,471.2L789.5,467.8L785.3,463.7L780.3,458.7Z" fill="#b1d5e7"/>
<path d="M863.7,430.3L860.3,438.7L857,447L854.5,453.7L851.2,459.5L850,464.5L852,468.7L857,470.3L862,467.8L867,464.5L871.2,462L873.7,457.8L878.7,456.2L882.8,458.7L887,457L896,454.5L898.7,453.7L898.7,430.3Z" fill="#b1d5e7"/>
<path d="M670.3,430.3L702,430.3L705.3,437L707.8,443.7L708.3,452L707.8,460.3L705.3,465.3L700.3,467.8L693.7,467L691.2,462L688.7,458.7L683.7,459.5L678.7,457L675.3,455.3L673.7,460.3L670.3,462Z" fill="#f8bfa4"/>
<path d="M670.3,467.8L682,469L687.8,472L690.3,478.7L689.5,485.3L685.3,488.7L680.3,490.3L675.3,493.7L672.8,497.8L670.3,498.7Z" fill="#f8bfa4"/>
<path d="M670.3,498.7L673.3,500.3L674.5,506.2L670.3,507Z" fill="#f8bfa4"/>
<path d="M670.3,510.3L678.7,511.2L685.3,512.3L682,514L670.3,513.3Z" fill="#f8bfa4"/>
<path d="M712.3,518.7L715.3,515.8L722,518.7L727.8,521.2L729.5,526.2L729.5,532L727,532.8L722,529.5L717,526.2L712.8,522.8Z" fill="#f8bfa4"/>
<path d="M670.3,542.8L677,544.5L682,548.7L687,553.7L692,558.7L697,558.7L703.7,556.2L708.7,556.2L712.8,560.3L715,563.7L712,568.7L708.7,573.7L703.7,578.7L701.7,583.7L702.8,588.7L700.3,593.7L698.7,598.7L695.3,603.7L688.7,602L683.7,597L682,590.3L677,587L670.3,582Z" fill="#f8bfa4"/>
<path d="M740,547L742.8,552L747,558.7L750.3,567L753.7,575.3L757,583.7L757.8,590.3L755.3,595.3L750.3,594.5L745.3,590.3L740.3,585.3L735.3,580.3L730.3,575.3L727,570.3L729.5,563.7L732.8,557L736.2,552Z" fill="#f8bfa4"/>
<path d="M711.5,587.8L716.2,583.7L721.2,580L723.7,583.7L725,588.7L722.8,594.5L719.5,596.2L715.3,592Z" fill="#f8bfa4"/>
<path d="M704.5,598.7L707.8,592L712,597L713.7,603.7L711.2,610.3L707.8,614.5L705.3,608.7L703.7,603.7Z" fill="#f8bfa4"/>
<path d="M673.3,612.8L675.3,611.2L677,615.3L676.7,623.7L674,624.5L672.8,618.7Z" fill="#f8bfa4"/>
<path d="M752,596.2L755,596.2L754,599.5Z" fill="#f8bfa4"/>
<path d="M752,617.8L757,616.2L762.8,617.8L767,622L768.7,628.7L768.7,638.7L765.3,645.3L762.8,650.3L765.3,656.2L723.7,656.2L727,650.3L728.7,643.7L730.3,637.8L734.5,634.5L742,633.7L747.8,632L750,625.3L750.3,620.3Z" fill="#f8bfa4"/>
<path d="M687.8,440.3L690.3,435.3L695.3,433.7L700.3,437L702.8,443.7L700.3,447.8L695.3,450L690.3,448.7L687.3,445.3Z" fill="#e48066"/>
<path d="M674.5,477.8L678.7,476.2L683.7,477.8L684,481.2L680.3,484.5L677,485.7L675,482Z" fill="#e48066"/>
<path d="M670.3,550.3L675.3,552.8L680.3,557L685.3,559.5L690.3,562L693.7,567L696.2,571.2L693.7,577L690.3,582L688.7,586.2L683.7,582.8L678.7,578.7L673.7,575.3L670.3,573.7Z" fill="#e48066"/>
<path d="M740.3,560.7L742.8,564.5L745,569.5L742.8,573.7L738.7,575L735.3,572L735,567.8L737.3,563.7Z" fill="#e48066"/>
<path d="M750,646.2L754.5,645.3L757.8,649.5L760.3,656.2L752,656.2Z" fill="#e48066"/>
</g>
<g clip-path="url(#t14)">
<path d="M893.7,751.5L898.7,750.7L898.7,769L895.3,767.3L890,763.2L892,757.3Z" fill="#b1d5e7"/>
<path d="M722,652.3L717,659L714,665.7L715.3,672.3L717.8,679L722,685.7L725.3,692.3L726.2,700.7L726.2,709L727.8,714.3L733.7,714.8L738.7,711.5L743.7,707.3L750.3,703.2L757,701.5L762.8,700.7L767,695.7L769.5,689L773.7,682.3L777,674L776.2,669L772,662.3L768.7,655.7L767.8,652.3Z" fill="#f8bfa4"/>
<path d="M670.3,714L675.3,713.2L680.3,716.5L682.8,720.7L681.2,724.8L675.3,725.7L670.3,724.8Z" fill="#f8bfa4"/>
<path d="M670.3,738.2L677,737.3L683.7,739L688.7,743.2L692.8,747.3L688.7,751.5L682,754L675.3,754.8L670.3,754Z" fill="#f8bfa4"/>
<path d="M707.3,747L709,750.7L710,755.7L708.3,758.7L706.2,754Z" fill="#f8bfa4"/>
<path d="M670.3,769L682,768.7L690.3,770.7L698.7,773.2L705.3,772.3L710.3,777.3L715.3,780.7L717,774L721.2,771.5L727,774.8L732,780.7L730.3,787.3L727,789.8L733.7,792.3L738.7,797.3L742.8,802.3L745.3,809L746.2,817.3L748.7,822.3L751.2,829L753.7,835.7L757.8,840.7L762,845.7L762.8,854L760.3,860.7L757,864.8L753.7,867L748.7,862.3L743.7,855.7L738.7,850.7L732,845.7L725.3,842.3L720.3,839L715.3,839.8L716.2,844L718.7,848.2L713.7,852.3L707.8,856.5L705.3,864L704.5,870.7L702.8,878.2L670.3,878.2Z" fill="#f8bfa4"/>
<path d="M737,662.3L742,661.5L747,664L753.7,669L758.7,674L762.8,677.3L765.3,670.7L765,663.2L767.8,664L768.7,672.3L767.8,680.7L763.7,685.7L758.7,690.7L754.5,694.8L749.5,689.8L749,685.7L751.2,680.7L748.7,675.7L743.7,672.3L738.7,668.2L736.2,664.8Z" fill="#e48066"/>
<path d="M752.8,652.3L761.2,652.3L760.3,657.3L754.5,657Z" fill="#e48066"/>
<path d="M732.8,652.3L735,652.3L734.5,658.2L733.3,656.5Z" fill="#e48066"/>
<path d="M670.3,780.7L677,778.7L683.7,778.2L689.5,779.8L691.2,787.3L692.8,795.7L694.5,804L697,814L695.3,820.7L693.7,824.8L687,824L680.3,822.3L673.7,823.2L670.3,822.3Z" fill="#e48066"/>
<path d="M670.3,822.3L673.7,823.2L675.3,829L677.8,835.7L681.2,842.3L685.3,847.3L687.8,854L688.7,862.3L687.8,867.3L683.7,870.7L680.3,865.7L678.7,859L675.3,852.3L672,845.7L670.3,844Z" fill="#e48066"/>
<path d="M719.2,813.2L722,810.7L728.7,814.8L729.5,820.7L727,824L722.8,819Z" fill="#e48066"/>
<path d="M673.3,789.8L676.2,789L677.8,795.7L677,799.8L673.7,799Z" fill="#c43b3c"/>
</g>
<g clip-path="url(#t15)">
<path d="M670.3,874.3L702,874.3L703.7,879.3L707,884.3L713.7,886.8L720.3,888.5L727,894.3L732,899.3L735.3,905.2L734.5,910.2L728.7,911.8L723.7,909.3L723.7,916L720.3,918.5L717,914.3L715.3,908.5L710.3,907.7L703.7,911L697,914.3L688.7,916.8L682,918.5L677,917.7L672,915.2L670.3,914.3Z" fill="#f8bfa4"/>
<path d="M716.2,931.8L720.3,928L723.7,931L727.8,933.5L732.8,936.8L736.2,940.2L733.7,944.3L732,949.3L732.8,956L735.3,961L741.2,964.3L742,967.7L738.7,971.8L734.5,976L730.3,972.7L726.2,967.7L723.7,961L721.2,954.3L719.5,946L718.7,939.3Z" fill="#f8bfa4"/>
<path d="M742.8,957.7L747,952.7L752,951L755.3,955.2L754.5,959.3L749.5,960.7L745.3,961Z" fill="#f8bfa4"/>
<path d="M813.7,957.2L818.7,961L825.3,963.5L832,966L837,969.3L838.7,976L838.7,982.7L841.2,986L846.2,981.8L851.2,981L855.3,982.7L856.2,991L858.7,997.7L862.8,1004.3L868.7,1011L875.3,1016L875.3,1019.3L853.7,1019.3L848.7,1014.3L843.7,1007.7L839.5,1004.3L839.5,1019.3L816.2,1019.3L813.7,1014.3L808.7,1011L802.8,1009.3L802,1002.7L798.7,998.5L793.7,995.2L790,990.2L791.2,982.7L795.3,977.7L800.3,974.3L807,971L809.5,964.3L812,959.3Z" fill="#f8bfa4"/>
<path d="M817.3,991L822,988L828.7,989L828.7,994.7L822,995.2L819.5,993.5Z" fill="#e48066"/>
<path d="M689.3,898.5L688.9,899.6L687.8,900L686.8,899.6L686.3,898.5L686.8,897.4L687.8,897L688.9,897.4Z" fill="#e48066"/>
<path d="M694.7,892.3L694.3,893.3L693.3,893.7L692.4,893.3L692,892.3L692.4,891.4L693.3,891L694.3,891.4Z" fill="#e48066"/>
</g>
<g clip-path="url(#t16)">
<path d="M889.3,173.3L1229.3,173.3L1229.3,628.3L1019.3,628.3L1021,624L1022.7,610L1029.3,603.3L1029.3,593.3L1022.7,583.3L1019.3,573.3L1014.3,560L1017.7,550L1016,540L1011,531.7L1006,523.3L1002.7,508.3L984.3,508.3L976,511.7L967.7,511.7L959.3,506.7L946,505L941,500L932.7,490L926,480L924.3,470L912.7,461.7L904.3,455L889.3,451.7Z" fill="#b1d5e7"/>
<path d="M1018,593.3L1017.6,594.3L1016.7,594.7L1015.7,594.3L1015.3,593.3L1015.7,592.4L1016.7,592L1017.6,592.4Z" fill="#f7f6f6"/>
<path d="M1124.3,213.3L1204.3,206.7L1229.3,206.7L1229.3,356.7L1206,356L1197.7,355L1191,350L1184.3,355L1179.3,355L1172.7,348.3L1166,341.7L1156,338.3L1146,334L1137.7,326.7L1129.3,320L1124.3,311.7L1119.3,303.3L1114.3,290L1112.7,276.7L1109.3,280L1108.7,290L1102.7,292.7L1097.7,286.7L1092.7,280L1087.7,276.7L1081,278.3L1074.3,276.7L1067.7,283.3L1061,291.7L1056,298.3L1047.7,303.3L1041,308.3L1039.3,320L1037.7,328.3L1039.3,340L1036,345L1029.3,343.3L1024.3,338.3L1012.7,340L1002.7,341.7L1001,350L1006,356.7L1011,363.3L1013.3,368.3L1009.3,370.7L1002.7,366.7L996,356.7L992.7,346.7L989.3,340L984.3,343.3L977.7,351.7L975.3,343.3L972,335L973.3,331.7L989.3,330L991,316.7L987.7,306.7L986.7,293.3L991,283.3L994.3,273.3L996,258.3L1006,255L1019.3,252.7L1029.3,251.7L1042.7,254L1052.7,251.7L1059.3,246.7L1069.3,246.7L1082.7,245L1091,241.7L1097.7,235L1107.7,230L1114.3,221.7L1119.3,216.7Z" fill="#6bacd1"/>
<path d="M1108,273.3L1107.2,275.2L1105.3,276L1103.4,275.2L1102.7,273.3L1103.4,271.4L1105.3,270.7L1107.2,271.4Z" fill="#b1d5e7"/>
<path d="M932.7,361.7L939.3,358.3L952.7,358.3L955.3,365L952.7,373.3L946,378.3L936,379.3L932,373.3Z" fill="#6bacd1"/>
<path d="M1023.3,364L1029.3,370L1033.3,380L1033.7,393.3L1031,395L1024.3,386.7L1022,376.7Z" fill="#6bacd1"/>
<path d="M994.3,408.3L1001,406L1007.7,411.7L1008.7,417.3L1002.7,420.7L996,423.3L992.7,428.3L991,423.3L991.7,415Z" fill="#6bacd1"/>
</g>
<g clip-path="url(#t17)">
<path d="M1019.3,620.7L1017.7,634L1012.7,647.3L1007.7,660.7L1002.7,667.3L992.7,670.7L986,679L984.3,690.7L986,704L977.7,707.3L976,720.7L971,730.7L964.3,735.7L952.7,737.3L944.3,742.3L941,752.3L936,759L926,760.7L924.3,765.7L929.3,772.3L939.3,770.7L941,777.3L936,785.7L927.7,789L922.7,794L921,800.7L927.7,805.7L936,814L929.3,824L924.3,834L929.3,839L939.3,837.3L944.3,845.7L946,855.7L954.3,859L961,869L967.7,877.3L974.3,885.7L977.7,895.7L982.7,902.3L992.7,902.3L1002.7,904L1009.3,912.3L1014.3,907.3L1021,905.7L1029.3,910.7L1039.3,915.7L1047.7,920.7L1047.7,930.7L1042.7,940.7L1036,946.7L1041,957.3L1052.7,957.3L1062.7,960.7L1067.7,969L1069.3,980.7L1071,990.7L1067.7,1004L1072.7,1012.3L1072.7,1040.7L1262.7,1040.7L1262.7,620.7Z" fill="#b1d5e7"/>
<path d="M894.3,750.7L900,752.3L902,759L899.3,769L894.3,769Z" fill="#b1d5e7"/>
<path d="M1104.3,790.7L1109.3,779L1119.3,772.3L1132.7,769.7L1146,772.3L1156,775.7L1161,787.3L1166,797.3L1166.7,810.7L1162.7,824L1152.7,830.7L1139.3,836.7L1127.7,837.3L1119.3,830.7L1112.7,824L1104.3,815.7L1100,810.7L1102.7,800.7Z" fill="#f7f6f6"/>
<path d="M1207.7,639L1214.3,638L1229.3,640.7L1229.3,750.7L1216,749L1207.7,744L1202.7,740.7L1207.7,730.7L1206,720.7L1197.7,712.3L1192.7,702.3L1186.7,692.3L1191,685.7L1197.7,677.3L1204.3,667.3L1206,654L1206,644Z" fill="#6bacd1"/>
<path d="M1029.3,752.3L1037.7,748L1047.7,749L1052.7,752.3L1051,759L1052.7,764L1062.7,765.7L1067.7,770.7L1069.3,779L1074.3,780.7L1079.3,777.3L1078.7,787.3L1082.7,794L1076,802.3L1067.7,810.7L1066,820.7L1061,830.7L1051,834L1046,840L1034.3,840.7L1027.7,834L1021,830.7L1012.7,820.7L1006,810.7L1004.3,797.3L1006,787.3L1012.7,779L1021,772.3L1027.7,765.7L1028.3,757.3Z" fill="#6bacd1"/>
<path d="M1101.7,910.7L1109.3,907.3L1116,900.7L1126,894L1132.7,884L1141,874L1152.7,870.7L1162.7,870L1172.7,865.7L1186,866.7L1201,866.3L1211,872.3L1216,880.7L1218.7,890.7L1224.3,900.7L1225,917.3L1222.7,930.7L1216,939L1209.3,947.3L1202.7,954L1197.7,962.3L1182.7,962.3L1169.3,965.7L1162.7,969.7L1147.7,969L1146.7,960.7L1142.7,950.7L1136,940.7L1129.3,934L1121,925.7L1112.7,919L1107.7,914Z" fill="#6bacd1"/>
<path d="M1205.3,797.3L1211,796.3L1214.3,802.3L1213.3,808L1207.7,805.7L1204.3,800.7Z" fill="#6bacd1"/>
<path d="M1166,904L1172.7,898.3L1181,900L1186,907.3L1184.3,915.7L1177.7,920.7L1171,917.3L1165.3,910.7Z" fill="#327cb7"/>
</g>
</g>
<path class="c" d="M19.2,243.3L25,239.2L30,240.5L36.7,240.8L43.3,237.5L51.7,236.3L60,235.8L61.7,241.7L60.8,250L65.8,253.7L68.3,250.8L73.3,250L74.2,246.3L80.8,244.2L80.8,230.8L110,231.7L110,246.3L115.3,246.7L115,267.5L120.3,268L120.3,272.2L130.8,272.5"/>
<path class="c" d="M399.3,213.3L398.7,294.2L389,294.5L389,305.8L379.8,305.8L378.2,347.5L376.5,347.5L376.2,370.3"/>
<path class="c" d="M438.2,434.2L439,370.8L376.2,370.3L224,365L130.7,361.7"/>
<path class="c" d="M438.5,397.5L394.3,397.5L393.2,434.2"/>
<path class="c" d="M762.5,218.3L762.5,349.7L745.3,349.7L745.3,366.7L745.7,420"/>
<path class="c" d="M651,367L672,367L693.7,367.5L745.3,366.7"/>
<path class="c" d="M885.3,419.2L885.3,313.7L896,313.7"/>
<path class="c" d="M757,420.3L896,418.7"/>
<path class="c" d="M733.7,432L734.5,429.7L738.7,430L739.5,427.5L744.5,426.7L745.3,420.3L755.3,419.2L755,414.2L759.5,411.7L760.3,416.7L757,420.3L756.2,425L752,426.7L751.2,432"/>
<path class="c" d="M972,216.7L972,312.3"/>
<path class="c" d="M883.3,313.7L896,313.3L989.3,312.7L991,417.7L896,419L892.7,419"/>
<path class="c" d="M955,418.3L956,505.7"/>
<path class="c" d="M892.7,471.7L955,471"/>
<path class="c" d="M892.7,506.7L956,505.7L1042.7,505L1212.7,499"/>
<path class="c" d="M954.7,506.7L955.3,626.7"/>
<path class="c" d="M1041.7,505.7L1043.3,626.7"/>
<path class="c" d="M1043.3,610.7L1216.7,605"/>
<path class="c" d="M1113.3,214.3L1114.3,326.7"/>
<path class="c" d="M1114.3,264L1205.3,261"/>
<path class="c" d="M990.3,330L1114.3,326.7L1207.3,324"/>
<path class="c" d="M1096,327.7L1095,345L1095,415L1096,416.7L1096.7,502.3"/>
<path class="c" d="M894.3,595L902.7,595L902.7,626.7"/>
<path class="c" d="M1001,96.7L1001.7,215"/>
<path class="c" d="M1204.3,210L1326,206"/>
<path class="c" d="M1208.3,271.7L1315.3,268.3L1326,267.7"/>
<path class="c" d="M1315.3,268.3L1319.3,338.3"/>
<path class="c" d="M1210,342.3L1322.7,337.7L1324.3,410"/>
<path class="c" d="M1311,412.3L1313.3,495"/>
<path class="c" d="M1215.3,499.3L1326,495"/>
<path class="c" d="M1317.7,496.7L1321,583.3"/>
<path class="c" d="M1217.7,587.3L1326,583.3"/>
<path class="c" d="M1306.7,584.3L1308.3,626.7"/>
<path class="c" d="M902.7,620.7L902.7,647.3L956,647.3L956,620.7"/>
<path class="c" d="M902.7,647.3L903.3,717.3L904.3,794L905,894"/>
<path class="c" d="M892.7,717.3L903.3,717.3L991,716.3L1043.3,714L1043.3,620.7"/>
<path class="c" d="M1042.7,696.7L1220,692"/>
<path class="c" d="M991,716.3L992.7,768L1112.7,765.7L1224.3,761.7"/>
<path class="c" d="M992.7,768L992,786.7L974.3,787.3L973.7,799L944.3,799L936,797.3L919.3,796.7L914.3,794L904.3,794"/>
<path class="c" d="M892.7,871.3L904.3,875.7"/>
<path class="c" d="M1008.3,768L1010,892.3"/>
<path class="c" d="M1112.7,765.7L1115,854L1114.3,854.7L1115.3,890"/>
<path class="c" d="M905,894L1010,892.3L1062.7,891.7L1115.3,890L1226.7,887.3"/>
<path class="c" d="M1062.7,892.3L1063.3,944L1062.7,945.7L1063.7,1020.7"/>
<path class="c" d="M1308.3,620.7L1309.3,670.7"/>
<path class="c" d="M1222,675L1296,672.3L1326,671.3"/>
<path class="c" d="M1296,672.3L1299.3,759"/>
<path class="c" d="M1225.3,762.3L1303.3,760L1326,759"/>
<path class="c" d="M1303.3,760L1307,847.3L1309.3,848L1310.3,865.7"/>
<path class="c" d="M1228.3,868.3L1326,865"/>
<path class="c" d="M1310.3,865.7L1312.7,935.7"/>
<path class="c" d="M1231,938.3L1308.3,936.3L1326,935.7"/>
<path class="c" d="M1308.3,936.3L1311.7,1014"/>
<path class="c" d="M914.3,1025.7L915.3,1137.3"/>
<path class="c" d="M1234.3,1017.3L1236.7,1117.3"/>
<path class="c" d="M19.2,509.5L112.5,514.2L115,508.7L118.3,507.8L119.7,506.7"/>
<path class="c" d="M125,475L146.7,475.7L147,477.8L200,480L200,471.2L224,471.7"/>
<path class="c" d="M122.5,533.3L224,537.8"/>
<path class="c" d="M225,645.3L220.8,646.2L220.8,655.3"/>
<path class="c" d="M222.3,472L296.5,474L296.8,448.2L375.7,449L376,432L394,432"/>
<path class="c" d="M425.7,431.2L424.8,482L423.2,543.7"/>
<path class="c" d="M222.3,537.3L307.3,540.7L374,543.3L423.2,543.7L449,544.7"/>
<path class="c" d="M374,543.3L373.2,547L368.2,552.8L372.3,557L378.2,558.7L379.3,563.7L374,565.3L370.7,569.5L364.8,569.5L361.5,572.8L357.3,576.2L354,579.5L349,582L344,585.3L339,590.3L334,596.2L329,599.5L322.3,602.8L319,606.2L314,602.8L309,599.5L304,598.7L295.7,601.2L287.3,602L280.7,605.3L274,611.2L268.2,617L266.5,622L262.3,627L258.2,630.3L254,633.7L240.7,639.5L222.3,645.8"/>
<path class="c" d="M361.5,572.8L361,615.3L359.8,655.3"/>
<path class="c" d="M378.2,558.7L380.7,563.7L379.8,570.3L381.5,577L385.7,582L392.3,585.3L394.8,592.8L429,593.7L434,598.7L439,605.3L440.7,611.2L445.7,612.8L449,615.3"/>
<path class="c" d="M531.3,433.7L559.7,435.3L564.7,442L571.3,448.7L578,451.2L584.7,457L587.2,465.3L589.7,473.7L594.7,480.3L601.3,482L608,480.3L614.7,475.3L616.3,468.7L615.5,462L621.3,461.2L628,462L636.3,457L642.2,452.8L646.3,448.7L645.5,440.3L644.7,432"/>
<path class="c" d="M646.3,448.7L653,452L659.7,456.2L664.7,457L668,462L673,465.3"/>
<path class="c" d="M531.3,433.7L531.3,442L533,450.3L538,460.3L543,467L549.7,473.7L556.3,480.3L561.3,483.7L564.7,488.7L568.8,490.3L570.5,495.3L568,500.3L565.5,503.7L566.3,508.7L561.3,511.2L558.8,515.3L559.7,525.3L563,535.3L564.7,543.7"/>
<path class="c" d="M421.3,544.7L448,545L531.3,547L534.7,543.7L538.8,547L543,548.7L551.3,547.8L554.7,548.7L564.7,543.7L574.7,544.5L581.3,545L589.7,548.3L593.8,547L594.7,542L599.7,538.7L604.7,537L603.8,532.8L608.8,531.2L613,525.3L618,520.3L619.7,515.3L624.7,512L624.7,507.8L629.7,502L632.2,498.7L630.5,494.5L624.7,492L621.3,490.3L616.3,483.7L611.3,480.3L608,480.3"/>
<path class="c" d="M624.7,507L673,507.3"/>
<path class="c" d="M531.3,547L529.7,555.3L519.7,558.7L518.8,565.3L520.5,573.7L518.8,582L515.5,587L508.8,587.8L508,595.3L504.7,602L504.7,608.7L564.7,609"/>
<path class="c" d="M574.7,544.5L575.5,550.3L569.7,557L568,565.3L569.7,573.7L568,582L568.8,590.3L564.7,598.7L568,603.7L564.7,609L566.3,615.3L571.3,622L579.7,623.7L579.7,630.3L584.7,633.7L591.3,632L598,638.7L601.3,644.5L606.3,646.2L608,655.3"/>
<path class="c" d="M446.3,615L454.7,619.5L459.7,617L464.7,622.8L471.3,622L478,611.2L486.3,608.7L493,613.7L501.3,620.3L504.7,608.7"/>
<path class="c" d="M501.3,620.3L509.7,622L514.7,627L521.3,634.5L528,636.2L538,637.8L544.7,640.3L541.3,648.7L538,655.3"/>
<path class="c" d="M671.2,433.3L692,433.7L691.7,595.3L807,595.7L897,595.3"/>
<path class="c" d="M692,437L729.5,437L728.7,442L733.7,442.3L732.8,438.7L737.8,437L738.7,439.5L745.3,439.5"/>
<path class="c" d="M730.3,436.2L733.7,432.8L737,432"/>
<path class="c" d="M751.2,432L751.7,436.2L745.3,436.7"/>
<path class="c" d="M671.2,467L687.8,468.7L688.7,471.2L691.7,471.2"/>
<path class="c" d="M671.2,507.5L691.7,507.5"/>
<path class="c" d="M745.3,418.7L745.3,507.8L807,507.8L897,507"/>
<path class="c" d="M807,507.8L807,595.3"/>
<path class="c" d="M745.3,507.8L742.8,512L741.2,518.7L739.5,522.8L733.7,525.3L732.8,528.7L734.5,532L732.8,536.2L727.8,540.3L727,547L725.3,555.3L720.3,565.3L716.2,573.7L712,578.7L708.7,585.3L704.5,590.3L702,596.2L701.7,655.3"/>
<path class="c" d="M748.7,596.2L749.5,615.3L749.5,647.8L743.7,648.2L743.3,655.3"/>
<path class="c" d="M772.8,472.3L897,472"/>
<path class="c" d="M745.3,462.3L760.3,462L765.3,463.7L768.7,461.2L772,460.3L772,457.8L774.5,457.8L775.3,461.2L787,460.3L786.7,452L795.3,451.2L795.7,440.3L801.2,440L802,437.8L816.2,440.3L813.7,456.2L791.2,456.2L790.7,460.3L795.3,460.7L795.3,466.2L788.7,466.2L780.3,465.3L777,469.5L772.8,470.3L772.8,472.3L773.3,480.3L770.3,481.2L770.3,485.3L769.5,488.7L773.7,487.8L777,489.5L772,492.8L771.2,496.2L767.8,496.2L767,492L762,489.5L757,487.8L752.8,485.3L750.3,489.5L748.7,490.3L747.8,495.3L745.3,495.3"/>
<path class="c" d="M745.3,486.2L742,487L743.7,490.3L741.2,492.8L737,494.5L737,496.2L745.3,497.8"/>
<path class="c" d="M19.2,703.5L110,708.2"/>
<path class="c" d="M114.2,708.2L166.7,710.7L218.3,712.7L220,679L225,679"/>
<path class="c" d="M220,653.2L220,679"/>
<path class="c" d="M111.3,778.2L166.7,779.8L225,782.3"/>
<path class="c" d="M109.2,833.2L143.3,834.3L143.7,832L183.3,833.2L225,834.8"/>
<path class="c" d="M219,678.8L224,679L290.7,681L358.2,683.2"/>
<path class="c" d="M359.3,653.2L358.2,683.2L357.3,720.7L356.8,757.3L335.7,757L335.3,750.7L256.5,748.2L258.2,752.3L261.5,753.2L263.2,762.3L274,764.8L279,767.3L281.5,769.8L286.5,771.5L285.7,781.5L284,785.7L284.8,792.3L292.3,793.2L293.2,810.7L292.3,814L299,816.5L305.7,819L310.7,824L315.7,830.7L317.3,835.7L314,840.7L309,844L309.8,849L304,854L300.7,859.8L295.7,862.3L294,869L292.3,872.3L282.3,874.8L279,877.3"/>
<path class="c" d="M222.3,782.7L284,784.5"/>
<path class="c" d="M335.7,757L339,764L342.3,770.7L344,780.7L345.7,788.2L344.8,795.7L346.5,802.3L352.3,805.7L349,812.3L345.7,816.5L341.5,818.2L340.7,822.3L344,824L332.3,824.8L332.3,832.3L327.3,837.3L320.7,838.2L317.3,835.7"/>
<path class="c" d="M345.7,788.2L390.7,789L434.8,790.3"/>
<path class="c" d="M449,734.3L436.5,734.3L435.7,762.3L434.8,790.3L434.8,829"/>
<path class="c" d="M344,824L349,832.3L350.7,839L349,845.7L352.3,852.3L357.3,854L359.8,860.7L356.5,865.7L355.7,877.3"/>
<path class="c" d="M345.7,816.5L347.3,819L344,824"/>
<path class="c" d="M412.3,877.3L412.3,831.5L417.3,829L422.3,827.3L426.5,829L434.8,829L439,825.7L442.3,829L449,827.3"/>
<path class="c" d="M222.3,834.8L234,835.7L237.3,842.3L240.7,849.8L250.7,848.2L256.5,844.8L260.7,847.3L267.3,844.8L275.7,844L280.7,849L287.3,854L291.5,859L295.7,862.3"/>
<path class="c" d="M531.3,653.2L528,657.3L529.7,664L526.3,672.3L524.7,680.7L526.3,685.7L531.3,690.7L536.3,695.7L538.8,702.3L539.7,710.7L541.3,719L546.3,724L551.3,729L555.5,734L556.3,736.5"/>
<path class="c" d="M436.5,734.2L448,734.5L514.7,736L556.3,736.5L583,736.8L585.5,731.5L589.7,730.7L593,732.3L598,727.3L604.7,721.5L610.5,720.7L610.5,712.3L613,707.3L614.7,700.7L612.2,694L609.7,689L606.3,684L601.3,683.2L604.7,677.3L605.5,670.7L608,664L610.5,660.7L606.3,653.2"/>
<path class="c" d="M601.3,683.2L673,682.3"/>
<path class="c" d="M593,732.3L596.3,737.3L603,744L608,749L613,754L614.7,759L621.3,765.7L627.2,769.8L629.7,774L636.3,780.7L641.3,787.3L645.5,790.7L647.2,797.3L649.7,804L654.7,812.3L658,820.7L661.3,827.3L664.7,832.3L673,834"/>
<path class="c" d="M627.2,769.8L673,769.5"/>
<path class="c" d="M446.3,827.3L453,828.2L456.3,834L463,837.3L468,840.7L473,844L477.2,843.2L479.7,846.5L483,846.5L482.7,877.3"/>
<path class="c" d="M483,854L500.5,854.8L500.5,872L588,872.7L673,873.2"/>
<path class="c" d="M587.2,872.7L587.7,877.3"/>
<path class="c" d="M702,653.2L702,682.3"/>
<path class="c" d="M671.2,682.7L702,682.3L716.2,683.2L715.7,693.2L762.8,692.3"/>
<path class="c" d="M742.8,653.2L742.8,662L763.3,662.3L762.8,692.3L763.7,718.2L763.3,771.5"/>
<path class="c" d="M763.7,718.2L897,717.3"/>
<path class="c" d="M671.2,769.8L722,770.7L763.3,771.5"/>
<path class="c" d="M746.2,771.5L745.3,840.7"/>
<path class="c" d="M671.2,835.7L674.5,840.7L677.8,844.8L687,844.8L693.7,840.7L698.7,838.2L703.7,835.7L707,842.3L709.5,843.2L712.8,835.7L717,830.7L721.2,825.7L724.5,820.7L727,819.5L730.3,824L732,829L734.5,834L737.8,834.8L740.3,833.2L743.7,835.7L744.5,840.7L747.8,842.3L748.7,845.7L752,847.3L810.3,843.5L855.3,860.7L897,873.5"/>
<path class="c" d="M677.8,844.8L682,847.3L684.5,854L683.7,862.3L681.2,867.3L680.3,877.3"/>
<path class="c" d="M671.2,873.7L680.3,874"/>
<path class="c" d="M855.3,860.7L847,867.3L842,874L841.2,877.3"/>
<path class="c" d="M105.3,911.8L125.8,884L225,887.7"/>
<path class="c" d="M225,970.2L222.5,976L222.5,984.3L218.3,996L213.3,1006L208.3,1010.2L207.5,1013.5"/>
<path class="c" d="M222.3,887.7L277.3,888.5L355.7,890.7"/>
<path class="c" d="M279,875.2L278.2,881L279,886.8L274,892.7L269,899.3L267.3,907.7L266.5,916L264.8,922.7L262.3,927.7L257.3,931L254,937.7L249,941L242.3,943.5L238.2,947.7L237.3,954.3L232.3,961L227.3,967.7L223.2,970.7"/>
<path class="c" d="M356.5,875.2L355.7,890.7L355.3,934.3L354,976L352.7,1017.7"/>
<path class="c" d="M355.3,934.3L411.5,935.2L411.5,941.8L449,942.7"/>
<path class="c" d="M410.7,875.2L411.5,882.7L413.2,886L412.3,909.3L411.5,935.2"/>
<path class="c" d="M360.7,1022.3L357.3,1026L356.5,1029.3L357.3,1034.3L356.5,1040.2"/>
<path class="c" d="M482.2,875.2L481.3,887.7L479.7,888.5L478.8,917.7L478.3,942.7L447.2,942.3"/>
<path class="c" d="M478.3,941.8L483,941.8L514.7,943L586.3,943.5L587.2,909.3L587.7,875.2"/>
<path class="c" d="M586.3,943.5L586.7,952.3L633.8,953L673,912.7"/>
<path class="c" d="M483,941.8L483,976L496.3,983.5L497.2,994.3L513.8,1021.3"/>
<path class="c" d="M633.8,953L632.2,956L635.5,962.7L638,966.8L633.8,972.7L634.7,981L636.3,989.3L633,996L634.7,1004.3L630.5,1009.3L628.8,1014.3L633,1021L637.2,1023"/>
<path class="c" d="M590.5,1026L593,1032.7L594.7,1040.2"/>
<path class="c" d="M680.3,875.2L677.8,882.7L677,891L675.3,897.7L673.7,903.5L676.2,906.8L671.2,914"/>
<path class="c" d="M676.2,906.8L682,901.8L688.7,901L693.7,896.8L698.7,895.2L705.3,892.7L710.3,895.2L717,898.5L722,899.3L722.8,902.7L720.3,906.8L723.7,911L725.7,916L725.7,931L729.5,934.3L731.2,940.2L732,943.5L728.7,945.2L727.8,951L728.3,959.3L729,966.8L729,1023.5"/>
<path class="c" d="M729,966.8L735.3,965.2L740.3,961.8L745.3,958.5L750.3,956L755.3,951L762,946.8L766.2,945.2L772,946.8L780.3,945.2L788.7,944L794.5,942.7L798.7,938.5L802.8,935.2L802.5,927.7L804.5,925.2L810.3,922.7L817,917.7L822,911L827,902.7L832,892.7L837,883.5L841.2,875.2"/>
<path class="c" d="M717.8,1026.8L716.2,1031L718.7,1037.7L720.7,1042.7L717.8,1052.7L716.7,1062.7L717.3,1072.7L716.7,1078.5L712,1081.8L707,1080.2L702,1083.5L701.2,1086.8L694.5,1090.2L695.3,1094.3L697,1099.3"/>
<path class="c" d="M467.2,216.7L468,223.3L472.2,229.2L478,235L486.3,238.3L493,240L498.8,245.8L502.2,251.7L501.3,258.3L498,265L497.2,273.3L494.7,281.7L492.2,291.7L493,298.3L496.3,308.3L498,316.7L498.8,326.7L501.3,333.3L505.5,340.8L513.8,342.5L516.3,343.3L519.7,339.2L523.8,335.8L526.3,340.8L529.7,346.7L536.3,348.3L543,346.7L551.3,349.2L556.3,346.7L561.3,351.7L568,352.5L573,350L578,350.8L584.7,349.2L591.3,346.7L598,343.3L604.7,347.5L608.8,341.7L613.8,336.7L614.7,330L616.3,325L622.2,323.3L621.3,316.7L614.7,315L612.2,306.7L609.7,296.7L605.5,285L601.3,275L598,265L593,255L586.3,246.7L581.3,240L576.3,231.7L572.2,225L571,217.5"/>
<path class="c" d="M498.8,326.7L500.5,343.3L501,376.7L500.5,416.7L501.3,433.3"/>
<path class="c" d="M622.2,323.3L628.8,324.2L629.7,330L627.2,334.2L630.5,340L634.7,345L639.7,350L644.7,355L648,360.8L650.5,366.7L673,367"/>
<path class="c" d="M650.5,366.7L654.7,369.2L650.5,375L649.7,383.3L653.8,390L656.3,395L655.5,403.3L654.7,411.7L648,416.7L646.3,423.3L647.2,433.3"/>
<path class="c" d="M309.5,98L310,130L309,132L308,209"/>
<path class="c" d="M591.5,98L591,113"/>
<path class="c" d="M551.5,205L551.5,216"/>
<path class="c" d="M712,98L712,113"/>
<path class="c" d="M712,205L712,218"/>
<path class="c" d="M806,104L895,104"/>
<path class="c" d="M425.7,432.3L501.3,433.2L531.3,433.7"/>
<path class="c" d="M972,137.5L1001.5,136.5"/>
<path class="c" d="M1001.5,127.5L1113,124"/>
<path class="c" d="M1112,98L1113,124L1116,135L1118.5,211"/>
<path class="c" d="M1117,168.5L1202,166"/>
<path class="c" d="M1211,98L1212,130"/>
<path class="c" d="M1202,132.5L1321,127.5L1323.5,197.5L1327,200"/>
<path class="c" d="M1202,132.5L1204.5,210"/>
<path class="c" d="M1299.5,98L1300.5,127.5"/>
<path class="c" d="M326,1120L325.5,1137"/>
<path class="c" d="M594,1040L600,1126L601,1137"/>
<path class="c" d="M1216.7,1120L1216.8,1137"/>
<path class="c" d="M1304.2,1117L1305,1137"/>
<path class="st" d="M10,198.4L59.8,201.1L109.6,203.4L159.4,205.7L209.2,207.8L259,209.7L308.8,211.4L358.5,212.9L408.3,214.3L458.1,215.5L507.9,216.4L557.7,217.3L607.5,217.9L657.3,218.3L707.1,218.6L756.9,218.7L806.7,218.5L856.5,218.2L906.2,217.8L956,217.1L1005.8,216.3L1055.6,215.2L1105.4,213.9L1155.2,212.5L1205,210.8L1232.5,1017.2"/>
<path class="st" d="M10,1006.5L65.2,1009.1L120.4,1011.6L175.6,1013.9L230.8,1016L286,1017.8L341.2,1019.4L396.5,1020.8L451.7,1022.1L506.9,1023.1L562.1,1023.9L617.3,1024.5L672.5,1024.9L727.7,1025L782.9,1024.9L838.1,1024.6L893.3,1024.1L948.5,1023.6L1003.8,1022.9L1059,1021.9L1114.2,1020.8L1169.4,1019.4L1224.6,1017.8L1279.8,1016L1335,1014"/>
<path class="st" d="M134.8,204.5L99.3,1010.5L92.7,1140"/>
<path class="st" d="M897.5,95L897.3,214"/>
<path class="st" d="M1213,412.5L1233.3,411.8L1253.7,411L1274,410.2L1294.3,409.4L1314.7,408.6L1335,407.7"/>
<path class="st" d="M1077.3,1021L1080,1122.5"/>
<path class="st" d="M1072.5,1140L1072.5,1123L1072.5,1123L1116.2,1122L1160,1120.7L1203.8,1119.4L1247.5,1117.9L1291.2,1116.3L1335,1114.5"/>
</g>
<rect x="378.3" y="112.3" width="589.4" height="95.4" fill="#fff" stroke="#000" stroke-width="2.7"/>
<text class="a" x="386.5" y="138.2">statewide departure from 1901-2000 avg: +0.1°F</text>
<text class="a" x="386.5" y="165.2">statewide departure from 1991-2020 avg: -0.7°F</text>
<text class="a" x="386.5" y="192.2">statewide rank: 64th warmest/67th coldest</text>
<rect x="31.7" y="1041.4" width="627.3" height="83.3" fill="#fff" stroke="#000" stroke-width="2.7"/>
<text class="s" x="38.8" y="1065.5">source: PRISM Climate Group, Oregon State University</text>
<text class="s" x="38.8" y="1088.5">map: Colorado Climate Center/Colorado State University</text>
<text class="s" x="38.8" y="1111.5">map generated 04 March 2025</text>
<rect x="20.4" y="101" width="1305" height="1034" fill="none" stroke="#000" stroke-width="2.3"/>
<text class="t" x="672.6" y="46">temperature rank (preliminary PRISM data)</text>
<text class="t" x="673.0" y="83.3">8 months ending January 1920 (Jun-Jan)</text>
<rect x="123" y="1147.6" width="157.5" height="40.2" fill="#327cb7"/>
<rect x="280" y="1147.6" width="157.5" height="40.2" fill="#6bacd1"/>
<rect x="437" y="1147.6" width="157.5" height="40.2" fill="#b1d5e7"/>
<rect x="594" y="1147.6" width="157.5" height="40.2" fill="#f7f6f6"/>
<rect x="751" y="1147.6" width="157.5" height="40.2" fill="#f8bfa4"/>
<rect x="908" y="1147.6" width="157.5" height="40.2" fill="#e48066"/>
<rect x="1065" y="1147.6" width="157.5" height="40.2" fill="#c43b3c"/>
<path d="M123.3,1147.6L68,1167.7L123.3,1187.8Z" fill="#053061"/>
<path d="M1221.7,1147.6L1277,1167.7L1221.7,1187.8Z" fill="#67001f"/>
<path d="M123,1147.6L1222,1147.6L1276.7,1167.7L1222,1187.8L123,1187.8L68.3,1167.7Z" fill="none" stroke="#000" stroke-width="2.2" stroke-linejoin="round"/>
<path d="M123,1187.8V1198" stroke="#000" stroke-width="2.2" fill="none"/>
<path d="M280,1187.8V1198" stroke="#000" stroke-width="2.2" fill="none"/>
<path d="M437,1187.8V1198" stroke="#000" stroke-width="2.2" fill="none"/>
<path d="M594,1187.8V1198" stroke="#000" stroke-width="2.2" fill="none"/>
<path d="M751,1187.8V1198" stroke="#000" stroke-width="2.2" fill="none"/>
<path d="M908,1187.8V1198" stroke="#000" stroke-width="2.2" fill="none"/>
<path d="M1065,1187.8V1198" stroke="#000" stroke-width="2.2" fill="none"/>
<path d="M1222,1187.8V1198" stroke="#000" stroke-width="2.2" fill="none"/>
<text class="k" x="122.7" y="1230">record</text><text class="k" x="122.7" y="1261.8">coldest</text>
<text class="k" x="279.7" y="1230">10th</text><text class="k" x="279.7" y="1261.8">coldest</text>
<text class="k" x="436.7" y="1230">20th</text><text class="k" x="436.7" y="1261.8">coldest</text>
<text class="k" x="593.7" y="1230">35th</text><text class="k" x="593.7" y="1261.8">coldest</text>
<text class="k" x="750.7" y="1230">35th</text><text class="k" x="750.7" y="1261.8">warmest</text>
<text class="k" x="907.7" y="1230">20th</text><text class="k" x="907.7" y="1261.8">warmest</text>
<text class="k" x="1064.7" y="1230">10th</text><text class="k" x="1064.7" y="1261.8">warmest</text>
<text class="k" x="1221.7" y="1230">record</text><text class="k" x="1221.7" y="1261.8">warmest</text>
<text class="t" x="673.0" y="1305">temperature rank out of 130 years (1896-2025)</text>
</svg>
</body></html>
